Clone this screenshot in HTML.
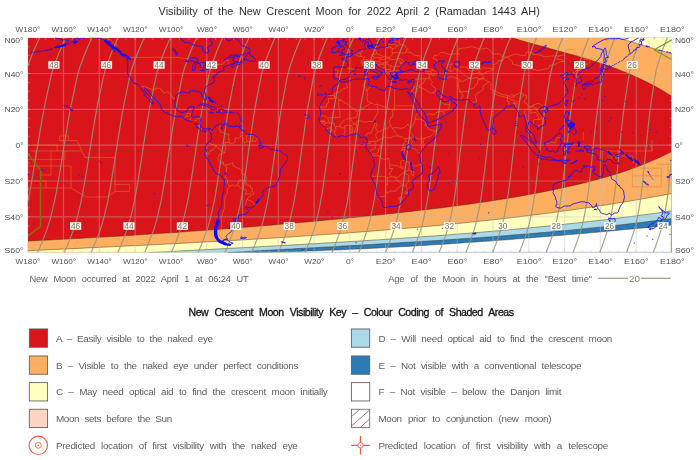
<!DOCTYPE html>
<html><head><meta charset="utf-8"><title>Crescent Moon Visibility</title>
<style>
html,body{margin:0;padding:0;background:#fff;}
svg{display:block;font-family:"Liberation Sans",sans-serif;will-change:transform;}
</style></head>
<body>
<svg width="700" height="460" viewBox="0 0 700 460">
<rect width="700" height="460" fill="#fff"/>
<defs><clipPath id="mc"><rect x="27.7" y="37.7" width="644.1999999999999" height="214.7"/></clipPath></defs>
<g clip-path="url(#mc)">
<rect x="27.7" y="37.7" width="644.1999999999999" height="214.7" fill="#d9151b"/>
<path d="M511.1,37.4 L512.9,38.0 L514.7,38.5 L516.5,39.1 L518.3,39.6 L520.1,40.2 L521.9,40.7 L523.7,41.2 L525.5,41.8 L527.3,42.3 L529.1,42.8 L530.9,43.3 L532.8,43.8 L534.6,44.3 L536.4,44.8 L538.2,45.3 L540.0,45.8 L541.8,46.3 L543.6,46.8 L545.4,47.3 L547.2,47.8 L549.0,48.3 L550.8,48.8 L552.6,49.3 L554.4,49.8 L556.2,50.3 L558.0,50.8 L559.8,51.3 L561.6,51.8 L563.4,52.3 L565.2,52.8 L567.0,53.3 L568.8,53.8 L570.6,54.3 L572.5,54.8 L574.3,55.3 L576.1,55.8 L577.9,56.3 L579.7,56.9 L581.5,57.4 L583.3,57.9 L585.1,58.5 L586.9,59.0 L588.7,59.6 L590.5,60.1 L592.3,60.7 L594.1,61.2 L595.9,61.8 L597.7,62.4 L599.5,63.0 L601.3,63.6 L603.1,64.2 L604.9,64.8 L606.7,65.4 L608.5,66.0 L610.3,66.7 L612.2,67.3 L614.0,68.0 L615.8,68.6 L617.6,69.3 L619.4,70.0 L621.2,70.7 L623.0,71.4 L624.8,72.1 L626.6,72.8 L628.4,73.6 L630.2,74.3 L632.0,75.1 L633.8,75.9 L635.6,76.7 L637.4,77.5 L639.2,78.4 L641.0,79.2 L642.8,80.1 L644.6,80.9 L646.4,81.8 L648.2,82.7 L650.0,83.7 L651.9,84.6 L653.7,85.6 L655.5,86.6 L657.3,87.6 L659.1,88.6 L660.9,89.6 L662.7,90.7 L664.5,91.8 L666.3,92.9 L668.1,94.0 L669.9,95.1 L671.7,96.3 L672.9,36.7 L511.1,36.7Z" fill="#fdae61"/>
<path d="M617.0,37.6 L617.6,37.8 L618.2,38.0 L618.9,38.2 L619.5,38.4 L620.1,38.6 L620.7,38.8 L621.3,39.0 L621.9,39.2 L622.6,39.3 L623.2,39.5 L623.8,39.7 L624.4,39.9 L625.0,40.1 L625.6,40.3 L626.3,40.5 L626.9,40.7 L627.5,40.8 L628.1,41.0 L628.7,41.2 L629.3,41.4 L630.0,41.6 L630.6,41.8 L631.2,41.9 L631.8,42.1 L632.4,42.3 L633.0,42.5 L633.7,42.7 L634.3,42.9 L634.9,43.1 L635.5,43.2 L636.1,43.4 L636.7,43.6 L637.4,43.8 L638.0,44.0 L638.6,44.1 L639.2,44.3 L639.8,44.5 L640.4,44.7 L641.1,44.9 L641.7,45.1 L642.3,45.2 L642.9,45.4 L643.5,45.6 L644.1,45.8 L644.8,46.0 L645.4,46.1 L646.0,46.3 L646.6,46.5 L647.2,46.7 L647.8,46.9 L648.5,47.0 L649.1,47.2 L649.7,47.4 L650.3,47.6 L650.9,47.7 L651.5,47.9 L652.2,48.1 L652.8,48.3 L653.4,48.5 L654.0,48.6 L654.6,48.8 L655.2,49.0 L655.9,49.2 L656.5,49.3 L657.1,49.5 L657.7,49.7 L658.3,49.9 L658.9,50.0 L659.6,50.2 L660.2,50.4 L660.8,50.6 L661.4,50.7 L662.0,50.9 L662.6,51.1 L663.3,51.3 L663.9,51.4 L664.5,51.6 L665.1,51.8 L665.7,51.9 L666.3,52.1 L667.0,52.3 L667.6,52.5 L668.2,52.6 L668.8,52.8 L669.4,53.0 L670.0,53.1 L670.7,53.3 L671.3,53.5 L671.9,53.7 L672.9,36.7 L617.0,36.7Z" fill="#ffffbf"/>
<path d="M27.7,241.0 L34.9,240.7 L42.2,240.3 L49.4,240.0 L56.7,239.6 L63.9,239.2 L71.1,238.8 L78.4,238.4 L85.6,238.0 L92.8,237.6 L100.1,237.2 L107.3,236.8 L114.6,236.4 L121.8,235.9 L129.0,235.5 L136.3,235.0 L143.5,234.6 L150.7,234.1 L158.0,233.6 L165.2,233.1 L172.5,232.7 L179.7,232.2 L186.9,231.6 L194.2,231.1 L201.4,230.6 L208.7,230.1 L215.9,229.5 L223.1,229.0 L230.4,228.4 L237.6,227.8 L244.8,227.3 L252.1,226.7 L259.3,226.1 L266.6,225.5 L273.8,224.9 L281.0,224.2 L288.3,223.6 L295.5,223.0 L302.8,222.3 L310.0,221.7 L317.2,221.0 L324.5,220.3 L331.7,219.6 L338.9,218.9 L346.2,218.2 L353.4,217.5 L360.7,216.8 L367.9,216.0 L375.1,215.3 L382.4,214.5 L389.6,213.8 L396.8,213.0 L404.1,212.2 L411.3,211.4 L418.6,210.5 L425.8,209.7 L433.0,208.8 L440.3,208.0 L447.5,207.0 L454.8,206.1 L462.0,205.1 L469.2,204.2 L476.5,203.1 L483.7,202.1 L490.9,201.0 L498.2,199.8 L505.4,198.7 L512.7,197.5 L519.9,196.2 L527.1,194.9 L534.4,193.6 L541.6,192.2 L548.9,190.7 L556.1,189.2 L563.3,187.7 L570.6,186.1 L577.8,184.4 L585.0,182.7 L592.3,180.8 L599.5,178.9 L606.8,176.8 L614.0,174.7 L621.2,172.4 L628.5,169.9 L635.7,167.3 L642.9,164.6 L650.2,161.6 L657.4,158.5 L664.7,155.1 L671.9,151.6 L672.9,253.4 L26.7,253.4Z" fill="#fdae61"/>
<path d="M27.7,250.8 L34.9,250.4 L42.2,250.1 L49.4,249.7 L56.7,249.4 L63.9,249.1 L71.1,248.7 L78.4,248.4 L85.6,248.0 L92.8,247.7 L100.1,247.3 L107.3,247.0 L114.6,246.6 L121.8,246.3 L129.0,245.9 L136.3,245.6 L143.5,245.2 L150.7,244.9 L158.0,244.5 L165.2,244.1 L172.5,243.8 L179.7,243.4 L186.9,243.0 L194.2,242.6 L201.4,242.2 L208.7,241.8 L215.9,241.4 L223.1,241.0 L230.4,240.6 L237.6,240.2 L244.8,239.8 L252.1,239.3 L259.3,238.9 L266.6,238.5 L273.8,238.0 L281.0,237.6 L288.3,237.1 L295.5,236.6 L302.8,236.1 L310.0,235.6 L317.2,235.1 L324.5,234.6 L331.7,234.1 L338.9,233.6 L346.2,233.1 L353.4,232.5 L360.7,232.0 L367.9,231.4 L375.1,230.8 L382.4,230.3 L389.6,229.7 L396.8,229.1 L404.1,228.5 L411.3,227.8 L418.6,227.2 L425.8,226.5 L433.0,225.9 L440.3,225.2 L447.5,224.5 L454.8,223.8 L462.0,223.1 L469.2,222.3 L476.5,221.6 L483.7,220.8 L490.9,220.0 L498.2,219.2 L505.4,218.4 L512.7,217.5 L519.9,216.7 L527.1,215.8 L534.4,214.9 L541.6,214.0 L548.9,213.1 L556.1,212.1 L563.3,211.1 L570.6,210.1 L577.8,209.1 L585.0,208.0 L592.3,207.0 L599.5,205.9 L606.8,204.8 L614.0,203.6 L621.2,202.4 L628.5,201.3 L635.7,200.0 L642.9,198.8 L650.2,197.5 L657.4,196.2 L664.7,194.9 L671.9,193.5 L672.9,253.4 L26.7,253.4Z" fill="#ffffbf"/>
<path d="M147.6,252.7 L153.5,252.4 L159.4,252.1 L165.3,251.8 L171.2,251.5 L177.1,251.1 L182.9,250.8 L188.8,250.5 L194.7,250.2 L200.6,249.9 L206.5,249.6 L212.4,249.3 L218.3,248.9 L224.2,248.6 L230.1,248.3 L236.0,248.0 L241.9,247.7 L247.7,247.4 L253.6,247.1 L259.5,246.7 L265.4,246.4 L271.3,246.1 L277.2,245.8 L283.1,245.5 L289.0,245.1 L294.9,244.8 L300.8,244.5 L306.7,244.1 L312.5,243.8 L318.4,243.5 L324.3,243.1 L330.2,242.8 L336.1,242.4 L342.0,242.1 L347.9,241.7 L353.8,241.3 L359.7,241.0 L365.6,240.6 L371.5,240.2 L377.3,239.9 L383.2,239.5 L389.1,239.1 L395.0,238.7 L400.9,238.3 L406.8,237.9 L412.7,237.5 L418.6,237.0 L424.5,236.6 L430.4,236.2 L436.3,235.8 L442.2,235.3 L448.0,234.9 L453.9,234.4 L459.8,233.9 L465.7,233.5 L471.6,233.0 L477.5,232.5 L483.4,232.0 L489.3,231.5 L495.2,231.0 L501.1,230.5 L507.0,229.9 L512.8,229.4 L518.7,228.9 L524.6,228.3 L530.5,227.7 L536.4,227.2 L542.3,226.6 L548.2,226.0 L554.1,225.4 L560.0,224.8 L565.9,224.1 L571.8,223.5 L577.6,222.9 L583.5,222.2 L589.4,221.5 L595.3,220.8 L601.2,220.2 L607.1,219.5 L613.0,218.7 L618.9,218.0 L624.8,217.3 L630.7,216.5 L636.6,215.8 L642.4,215.0 L648.3,214.2 L654.2,213.4 L660.1,212.6 L666.0,211.7 L671.9,210.9 L672.9,253.4 L147.6,253.4Z" fill="#abd9e9"/>
<path d="M227.4,252.6 L232.4,252.3 L237.4,252.0 L242.4,251.7 L247.4,251.4 L252.4,251.1 L257.4,250.8 L262.4,250.5 L267.4,250.3 L272.3,250.0 L277.3,249.7 L282.3,249.4 L287.3,249.1 L292.3,248.9 L297.3,248.6 L302.3,248.3 L307.3,248.0 L312.3,247.8 L317.3,247.5 L322.3,247.2 L327.3,246.9 L332.3,246.7 L337.3,246.4 L342.3,246.1 L347.3,245.8 L352.3,245.5 L357.3,245.3 L362.2,245.0 L367.2,244.7 L372.2,244.4 L377.2,244.1 L382.2,243.8 L387.2,243.5 L392.2,243.2 L397.2,242.9 L402.2,242.6 L407.2,242.3 L412.2,242.0 L417.2,241.7 L422.2,241.4 L427.2,241.1 L432.2,240.8 L437.2,240.5 L442.2,240.1 L447.2,239.8 L452.1,239.5 L457.1,239.1 L462.1,238.8 L467.1,238.5 L472.1,238.1 L477.1,237.8 L482.1,237.4 L487.1,237.0 L492.1,236.7 L497.1,236.3 L502.1,235.9 L507.1,235.5 L512.1,235.1 L517.1,234.7 L522.1,234.3 L527.1,233.9 L532.1,233.5 L537.1,233.1 L542.0,232.6 L547.0,232.2 L552.0,231.7 L557.0,231.3 L562.0,230.8 L567.0,230.4 L572.0,229.9 L577.0,229.4 L582.0,228.9 L587.0,228.4 L592.0,227.9 L597.0,227.4 L602.0,226.9 L607.0,226.3 L612.0,225.8 L617.0,225.2 L622.0,224.7 L627.0,224.1 L631.9,223.5 L636.9,222.9 L641.9,222.3 L646.9,221.7 L651.9,221.1 L656.9,220.5 L661.9,219.8 L666.9,219.2 L671.9,218.5 L672.9,253.4 L227.4,253.4Z" fill="#2c7bb6"/>
<path d="M257.0,252.5 L261.7,252.4 L266.3,252.3 L271.0,252.2 L275.6,252.1 L280.3,251.9 L285.0,251.8 L289.6,251.7 L294.3,251.5 L299.0,251.4 L303.6,251.2 L308.3,251.0 L312.9,250.9 L317.6,250.7 L322.3,250.5 L326.9,250.3 L331.6,250.1 L336.3,250.0 L340.9,249.8 L345.6,249.6 L350.2,249.3 L354.9,249.1 L359.6,248.9 L364.2,248.7 L368.9,248.5 L373.5,248.2 L378.2,248.0 L382.9,247.7 L387.5,247.5 L392.2,247.2 L396.9,247.0 L401.5,246.7 L406.2,246.5 L410.8,246.2 L415.5,245.9 L420.2,245.6 L424.8,245.4 L429.5,245.1 L434.1,244.8 L438.8,244.5 L443.5,244.2 L448.1,243.9 L452.8,243.6 L457.5,243.3 L462.1,242.9 L466.8,242.6 L471.4,242.3 L476.1,242.0 L480.8,241.6 L485.4,241.3 L490.1,241.0 L494.8,240.6 L499.4,240.3 L504.1,239.9 L508.7,239.6 L513.4,239.2 L518.1,238.8 L522.7,238.5 L527.4,238.1 L532.0,237.7 L536.7,237.3 L541.4,237.0 L546.0,236.6 L550.7,236.2 L555.4,235.8 L560.0,235.4 L564.7,235.0 L569.3,234.6 L574.0,234.2 L578.7,233.8 L583.3,233.4 L588.0,233.0 L592.6,232.6 L597.3,232.2 L602.0,231.7 L606.6,231.3 L611.3,230.9 L616.0,230.5 L620.6,230.0 L625.3,229.6 L629.9,229.2 L634.6,228.7 L639.3,228.3 L643.9,227.9 L648.6,227.4 L653.3,227.0 L657.9,226.5 L662.6,226.1 L667.2,225.6 L671.9,225.1 L672.9,253.4 L257.0,253.4Z" fill="#ffffff"/>
<path d="M511.1,37.4 L512.9,38.0 L514.7,38.5 L516.5,39.1 L518.3,39.6 L520.1,40.2 L521.9,40.7 L523.7,41.2 L525.5,41.8 L527.3,42.3 L529.1,42.8 L530.9,43.3 L532.8,43.8 L534.6,44.3 L536.4,44.8 L538.2,45.3 L540.0,45.8 L541.8,46.3 L543.6,46.8 L545.4,47.3 L547.2,47.8 L549.0,48.3 L550.8,48.8 L552.6,49.3 L554.4,49.8 L556.2,50.3 L558.0,50.8 L559.8,51.3 L561.6,51.8 L563.4,52.3 L565.2,52.8 L567.0,53.3 L568.8,53.8 L570.6,54.3 L572.5,54.8 L574.3,55.3 L576.1,55.8 L577.9,56.3 L579.7,56.9 L581.5,57.4 L583.3,57.9 L585.1,58.5 L586.9,59.0 L588.7,59.6 L590.5,60.1 L592.3,60.7 L594.1,61.2 L595.9,61.8 L597.7,62.4 L599.5,63.0 L601.3,63.6 L603.1,64.2 L604.9,64.8 L606.7,65.4 L608.5,66.0 L610.3,66.7 L612.2,67.3 L614.0,68.0 L615.8,68.6 L617.6,69.3 L619.4,70.0 L621.2,70.7 L623.0,71.4 L624.8,72.1 L626.6,72.8 L628.4,73.6 L630.2,74.3 L632.0,75.1 L633.8,75.9 L635.6,76.7 L637.4,77.5 L639.2,78.4 L641.0,79.2 L642.8,80.1 L644.6,80.9 L646.4,81.8 L648.2,82.7 L650.0,83.7 L651.9,84.6 L653.7,85.6 L655.5,86.6 L657.3,87.6 L659.1,88.6 L660.9,89.6 L662.7,90.7 L664.5,91.8 L666.3,92.9 L668.1,94.0 L669.9,95.1 L671.7,96.3" fill="none" stroke="#3a2a10" stroke-opacity="0.75" stroke-width="0.6"/>
<path d="M617.0,37.6 L617.6,37.8 L618.2,38.0 L618.9,38.2 L619.5,38.4 L620.1,38.6 L620.7,38.8 L621.3,39.0 L621.9,39.2 L622.6,39.3 L623.2,39.5 L623.8,39.7 L624.4,39.9 L625.0,40.1 L625.6,40.3 L626.3,40.5 L626.9,40.7 L627.5,40.8 L628.1,41.0 L628.7,41.2 L629.3,41.4 L630.0,41.6 L630.6,41.8 L631.2,41.9 L631.8,42.1 L632.4,42.3 L633.0,42.5 L633.7,42.7 L634.3,42.9 L634.9,43.1 L635.5,43.2 L636.1,43.4 L636.7,43.6 L637.4,43.8 L638.0,44.0 L638.6,44.1 L639.2,44.3 L639.8,44.5 L640.4,44.7 L641.1,44.9 L641.7,45.1 L642.3,45.2 L642.9,45.4 L643.5,45.6 L644.1,45.8 L644.8,46.0 L645.4,46.1 L646.0,46.3 L646.6,46.5 L647.2,46.7 L647.8,46.9 L648.5,47.0 L649.1,47.2 L649.7,47.4 L650.3,47.6 L650.9,47.7 L651.5,47.9 L652.2,48.1 L652.8,48.3 L653.4,48.5 L654.0,48.6 L654.6,48.8 L655.2,49.0 L655.9,49.2 L656.5,49.3 L657.1,49.5 L657.7,49.7 L658.3,49.9 L658.9,50.0 L659.6,50.2 L660.2,50.4 L660.8,50.6 L661.4,50.7 L662.0,50.9 L662.6,51.1 L663.3,51.3 L663.9,51.4 L664.5,51.6 L665.1,51.8 L665.7,51.9 L666.3,52.1 L667.0,52.3 L667.6,52.5 L668.2,52.6 L668.8,52.8 L669.4,53.0 L670.0,53.1 L670.7,53.3 L671.3,53.5 L671.9,53.7" fill="none" stroke="#3a2a10" stroke-opacity="0.75" stroke-width="0.6"/>
<path d="M27.7,241.0 L34.9,240.7 L42.2,240.3 L49.4,240.0 L56.7,239.6 L63.9,239.2 L71.1,238.8 L78.4,238.4 L85.6,238.0 L92.8,237.6 L100.1,237.2 L107.3,236.8 L114.6,236.4 L121.8,235.9 L129.0,235.5 L136.3,235.0 L143.5,234.6 L150.7,234.1 L158.0,233.6 L165.2,233.1 L172.5,232.7 L179.7,232.2 L186.9,231.6 L194.2,231.1 L201.4,230.6 L208.7,230.1 L215.9,229.5 L223.1,229.0 L230.4,228.4 L237.6,227.8 L244.8,227.3 L252.1,226.7 L259.3,226.1 L266.6,225.5 L273.8,224.9 L281.0,224.2 L288.3,223.6 L295.5,223.0 L302.8,222.3 L310.0,221.7 L317.2,221.0 L324.5,220.3 L331.7,219.6 L338.9,218.9 L346.2,218.2 L353.4,217.5 L360.7,216.8 L367.9,216.0 L375.1,215.3 L382.4,214.5 L389.6,213.8 L396.8,213.0 L404.1,212.2 L411.3,211.4 L418.6,210.5 L425.8,209.7 L433.0,208.8 L440.3,208.0 L447.5,207.0 L454.8,206.1 L462.0,205.1 L469.2,204.2 L476.5,203.1 L483.7,202.1 L490.9,201.0 L498.2,199.8 L505.4,198.7 L512.7,197.5 L519.9,196.2 L527.1,194.9 L534.4,193.6 L541.6,192.2 L548.9,190.7 L556.1,189.2 L563.3,187.7 L570.6,186.1 L577.8,184.4 L585.0,182.7 L592.3,180.8 L599.5,178.9 L606.8,176.8 L614.0,174.7 L621.2,172.4 L628.5,169.9 L635.7,167.3 L642.9,164.6 L650.2,161.6 L657.4,158.5 L664.7,155.1 L671.9,151.6" fill="none" stroke="#3a2a10" stroke-opacity="0.75" stroke-width="0.6"/>
<path d="M27.7,250.8 L34.9,250.4 L42.2,250.1 L49.4,249.7 L56.7,249.4 L63.9,249.1 L71.1,248.7 L78.4,248.4 L85.6,248.0 L92.8,247.7 L100.1,247.3 L107.3,247.0 L114.6,246.6 L121.8,246.3 L129.0,245.9 L136.3,245.6 L143.5,245.2 L150.7,244.9 L158.0,244.5 L165.2,244.1 L172.5,243.8 L179.7,243.4 L186.9,243.0 L194.2,242.6 L201.4,242.2 L208.7,241.8 L215.9,241.4 L223.1,241.0 L230.4,240.6 L237.6,240.2 L244.8,239.8 L252.1,239.3 L259.3,238.9 L266.6,238.5 L273.8,238.0 L281.0,237.6 L288.3,237.1 L295.5,236.6 L302.8,236.1 L310.0,235.6 L317.2,235.1 L324.5,234.6 L331.7,234.1 L338.9,233.6 L346.2,233.1 L353.4,232.5 L360.7,232.0 L367.9,231.4 L375.1,230.8 L382.4,230.3 L389.6,229.7 L396.8,229.1 L404.1,228.5 L411.3,227.8 L418.6,227.2 L425.8,226.5 L433.0,225.9 L440.3,225.2 L447.5,224.5 L454.8,223.8 L462.0,223.1 L469.2,222.3 L476.5,221.6 L483.7,220.8 L490.9,220.0 L498.2,219.2 L505.4,218.4 L512.7,217.5 L519.9,216.7 L527.1,215.8 L534.4,214.9 L541.6,214.0 L548.9,213.1 L556.1,212.1 L563.3,211.1 L570.6,210.1 L577.8,209.1 L585.0,208.0 L592.3,207.0 L599.5,205.9 L606.8,204.8 L614.0,203.6 L621.2,202.4 L628.5,201.3 L635.7,200.0 L642.9,198.8 L650.2,197.5 L657.4,196.2 L664.7,194.9 L671.9,193.5" fill="none" stroke="#3a2a10" stroke-opacity="0.75" stroke-width="0.6"/>
<path d="M147.6,252.7 L153.5,252.4 L159.4,252.1 L165.3,251.8 L171.2,251.5 L177.1,251.1 L182.9,250.8 L188.8,250.5 L194.7,250.2 L200.6,249.9 L206.5,249.6 L212.4,249.3 L218.3,248.9 L224.2,248.6 L230.1,248.3 L236.0,248.0 L241.9,247.7 L247.7,247.4 L253.6,247.1 L259.5,246.7 L265.4,246.4 L271.3,246.1 L277.2,245.8 L283.1,245.5 L289.0,245.1 L294.9,244.8 L300.8,244.5 L306.7,244.1 L312.5,243.8 L318.4,243.5 L324.3,243.1 L330.2,242.8 L336.1,242.4 L342.0,242.1 L347.9,241.7 L353.8,241.3 L359.7,241.0 L365.6,240.6 L371.5,240.2 L377.3,239.9 L383.2,239.5 L389.1,239.1 L395.0,238.7 L400.9,238.3 L406.8,237.9 L412.7,237.5 L418.6,237.0 L424.5,236.6 L430.4,236.2 L436.3,235.8 L442.2,235.3 L448.0,234.9 L453.9,234.4 L459.8,233.9 L465.7,233.5 L471.6,233.0 L477.5,232.5 L483.4,232.0 L489.3,231.5 L495.2,231.0 L501.1,230.5 L507.0,229.9 L512.8,229.4 L518.7,228.9 L524.6,228.3 L530.5,227.7 L536.4,227.2 L542.3,226.6 L548.2,226.0 L554.1,225.4 L560.0,224.8 L565.9,224.1 L571.8,223.5 L577.6,222.9 L583.5,222.2 L589.4,221.5 L595.3,220.8 L601.2,220.2 L607.1,219.5 L613.0,218.7 L618.9,218.0 L624.8,217.3 L630.7,216.5 L636.6,215.8 L642.4,215.0 L648.3,214.2 L654.2,213.4 L660.1,212.6 L666.0,211.7 L671.9,210.9" fill="none" stroke="#3a2a10" stroke-opacity="0.75" stroke-width="0.6"/>
<path d="M227.4,252.6 L232.4,252.3 L237.4,252.0 L242.4,251.7 L247.4,251.4 L252.4,251.1 L257.4,250.8 L262.4,250.5 L267.4,250.3 L272.3,250.0 L277.3,249.7 L282.3,249.4 L287.3,249.1 L292.3,248.9 L297.3,248.6 L302.3,248.3 L307.3,248.0 L312.3,247.8 L317.3,247.5 L322.3,247.2 L327.3,246.9 L332.3,246.7 L337.3,246.4 L342.3,246.1 L347.3,245.8 L352.3,245.5 L357.3,245.3 L362.2,245.0 L367.2,244.7 L372.2,244.4 L377.2,244.1 L382.2,243.8 L387.2,243.5 L392.2,243.2 L397.2,242.9 L402.2,242.6 L407.2,242.3 L412.2,242.0 L417.2,241.7 L422.2,241.4 L427.2,241.1 L432.2,240.8 L437.2,240.5 L442.2,240.1 L447.2,239.8 L452.1,239.5 L457.1,239.1 L462.1,238.8 L467.1,238.5 L472.1,238.1 L477.1,237.8 L482.1,237.4 L487.1,237.0 L492.1,236.7 L497.1,236.3 L502.1,235.9 L507.1,235.5 L512.1,235.1 L517.1,234.7 L522.1,234.3 L527.1,233.9 L532.1,233.5 L537.1,233.1 L542.0,232.6 L547.0,232.2 L552.0,231.7 L557.0,231.3 L562.0,230.8 L567.0,230.4 L572.0,229.9 L577.0,229.4 L582.0,228.9 L587.0,228.4 L592.0,227.9 L597.0,227.4 L602.0,226.9 L607.0,226.3 L612.0,225.8 L617.0,225.2 L622.0,224.7 L627.0,224.1 L631.9,223.5 L636.9,222.9 L641.9,222.3 L646.9,221.7 L651.9,221.1 L656.9,220.5 L661.9,219.8 L666.9,219.2 L671.9,218.5" fill="none" stroke="#3a2a10" stroke-opacity="0.75" stroke-width="0.6"/>
<path d="M257.0,252.5 L261.7,252.4 L266.3,252.3 L271.0,252.2 L275.6,252.1 L280.3,251.9 L285.0,251.8 L289.6,251.7 L294.3,251.5 L299.0,251.4 L303.6,251.2 L308.3,251.0 L312.9,250.9 L317.6,250.7 L322.3,250.5 L326.9,250.3 L331.6,250.1 L336.3,250.0 L340.9,249.8 L345.6,249.6 L350.2,249.3 L354.9,249.1 L359.6,248.9 L364.2,248.7 L368.9,248.5 L373.5,248.2 L378.2,248.0 L382.9,247.7 L387.5,247.5 L392.2,247.2 L396.9,247.0 L401.5,246.7 L406.2,246.5 L410.8,246.2 L415.5,245.9 L420.2,245.6 L424.8,245.4 L429.5,245.1 L434.1,244.8 L438.8,244.5 L443.5,244.2 L448.1,243.9 L452.8,243.6 L457.5,243.3 L462.1,242.9 L466.8,242.6 L471.4,242.3 L476.1,242.0 L480.8,241.6 L485.4,241.3 L490.1,241.0 L494.8,240.6 L499.4,240.3 L504.1,239.9 L508.7,239.6 L513.4,239.2 L518.1,238.8 L522.7,238.5 L527.4,238.1 L532.0,237.7 L536.7,237.3 L541.4,237.0 L546.0,236.6 L550.7,236.2 L555.4,235.8 L560.0,235.4 L564.7,235.0 L569.3,234.6 L574.0,234.2 L578.7,233.8 L583.3,233.4 L588.0,233.0 L592.6,232.6 L597.3,232.2 L602.0,231.7 L606.6,231.3 L611.3,230.9 L616.0,230.5 L620.6,230.0 L625.3,229.6 L629.9,229.2 L634.6,228.7 L639.3,228.3 L643.9,227.9 L648.6,227.4 L653.3,227.0 L657.9,226.5 L662.6,226.1 L667.2,225.6 L671.9,225.1" fill="none" stroke="#3a2a10" stroke-opacity="0.75" stroke-width="0.6"/>
<path d="M63.5,37.7 V252.4 M99.3,37.7 V252.4 M135.1,37.7 V252.4 M170.9,37.7 V252.4 M206.7,37.7 V252.4 M242.5,37.7 V252.4 M278.3,37.7 V252.4 M314.1,37.7 V252.4 M349.8,37.7 V252.4 M385.6,37.7 V252.4 M421.4,37.7 V252.4 M457.2,37.7 V252.4 M493.0,37.7 V252.4 M528.8,37.7 V252.4 M564.6,37.7 V252.4 M600.4,37.7 V252.4 M636.2,37.7 V252.4 M27.7,216.9 H671.9 M27.7,181.0 H671.9 M27.7,145.2 H671.9 M27.7,109.3 H671.9 M27.7,73.5 H671.9" fill="none" stroke="#c0c0c0" stroke-opacity="0.38" stroke-width="1.2"/>
<path d="M27.7,252.1 H671.9" fill="none" stroke="#c4c4c4" stroke-opacity="0.7" stroke-width="0.7"/>
<path d="M36.6,252.4 v-2 M36.6,37.7 v2 M45.6,252.4 v-2 M45.6,37.7 v2 M54.5,252.4 v-2 M54.5,37.7 v2 M63.5,252.4 v-2 M63.5,37.7 v2 M72.4,252.4 v-2 M72.4,37.7 v2 M81.4,252.4 v-2 M81.4,37.7 v2 M90.3,252.4 v-2 M90.3,37.7 v2 M99.3,252.4 v-2 M99.3,37.7 v2 M108.2,252.4 v-2 M108.2,37.7 v2 M117.2,252.4 v-2 M117.2,37.7 v2 M126.1,252.4 v-2 M126.1,37.7 v2 M135.1,252.4 v-2 M135.1,37.7 v2 M144.0,252.4 v-2 M144.0,37.7 v2 M153.0,252.4 v-2 M153.0,37.7 v2 M161.9,252.4 v-2 M161.9,37.7 v2 M170.9,252.4 v-2 M170.9,37.7 v2 M179.8,252.4 v-2 M179.8,37.7 v2 M188.8,252.4 v-2 M188.8,37.7 v2 M197.7,252.4 v-2 M197.7,37.7 v2 M206.7,252.4 v-2 M206.7,37.7 v2 M215.6,252.4 v-2 M215.6,37.7 v2 M224.6,252.4 v-2 M224.6,37.7 v2 M233.5,252.4 v-2 M233.5,37.7 v2 M242.5,252.4 v-2 M242.5,37.7 v2 M251.4,252.4 v-2 M251.4,37.7 v2 M260.4,252.4 v-2 M260.4,37.7 v2 M269.3,252.4 v-2 M269.3,37.7 v2 M278.3,252.4 v-2 M278.3,37.7 v2 M287.2,252.4 v-2 M287.2,37.7 v2 M296.2,252.4 v-2 M296.2,37.7 v2 M305.1,252.4 v-2 M305.1,37.7 v2 M314.1,252.4 v-2 M314.1,37.7 v2 M323.0,252.4 v-2 M323.0,37.7 v2 M331.9,252.4 v-2 M331.9,37.7 v2 M340.9,252.4 v-2 M340.9,37.7 v2 M349.8,252.4 v-2 M349.8,37.7 v2 M358.8,252.4 v-2 M358.8,37.7 v2 M367.7,252.4 v-2 M367.7,37.7 v2 M376.7,252.4 v-2 M376.7,37.7 v2 M385.6,252.4 v-2 M385.6,37.7 v2 M394.6,252.4 v-2 M394.6,37.7 v2 M403.5,252.4 v-2 M403.5,37.7 v2 M412.5,252.4 v-2 M412.5,37.7 v2 M421.4,252.4 v-2 M421.4,37.7 v2 M430.4,252.4 v-2 M430.4,37.7 v2 M439.3,252.4 v-2 M439.3,37.7 v2 M448.3,252.4 v-2 M448.3,37.7 v2 M457.2,252.4 v-2 M457.2,37.7 v2 M466.2,252.4 v-2 M466.2,37.7 v2 M475.1,252.4 v-2 M475.1,37.7 v2 M484.1,252.4 v-2 M484.1,37.7 v2 M493.0,252.4 v-2 M493.0,37.7 v2 M502.0,252.4 v-2 M502.0,37.7 v2 M510.9,252.4 v-2 M510.9,37.7 v2 M519.9,252.4 v-2 M519.9,37.7 v2 M528.8,252.4 v-2 M528.8,37.7 v2 M537.8,252.4 v-2 M537.8,37.7 v2 M546.7,252.4 v-2 M546.7,37.7 v2 M555.7,252.4 v-2 M555.7,37.7 v2 M564.6,252.4 v-2 M564.6,37.7 v2 M573.6,252.4 v-2 M573.6,37.7 v2 M582.5,252.4 v-2 M582.5,37.7 v2 M591.5,252.4 v-2 M591.5,37.7 v2 M600.4,252.4 v-2 M600.4,37.7 v2 M609.4,252.4 v-2 M609.4,37.7 v2 M618.3,252.4 v-2 M618.3,37.7 v2 M627.2,252.4 v-2 M627.2,37.7 v2 M636.2,252.4 v-2 M636.2,37.7 v2 M645.1,252.4 v-2 M645.1,37.7 v2 M654.1,252.4 v-2 M654.1,37.7 v2 M663.0,252.4 v-2 M663.0,37.7 v2 M27.7,243.8 h2 M671.9,243.8 h-2 M27.7,234.8 h2 M671.9,234.8 h-2 M27.7,225.9 h2 M671.9,225.9 h-2 M27.7,216.9 h2 M671.9,216.9 h-2 M27.7,207.9 h2 M671.9,207.9 h-2 M27.7,199.0 h2 M671.9,199.0 h-2 M27.7,190.0 h2 M671.9,190.0 h-2 M27.7,181.0 h2 M671.9,181.0 h-2 M27.7,172.1 h2 M671.9,172.1 h-2 M27.7,163.1 h2 M671.9,163.1 h-2 M27.7,154.2 h2 M671.9,154.2 h-2 M27.7,145.2 h2 M671.9,145.2 h-2 M27.7,136.2 h2 M671.9,136.2 h-2 M27.7,127.3 h2 M671.9,127.3 h-2 M27.7,118.3 h2 M671.9,118.3 h-2 M27.7,109.3 h2 M671.9,109.3 h-2 M27.7,100.4 h2 M671.9,100.4 h-2 M27.7,91.4 h2 M671.9,91.4 h-2 M27.7,82.5 h2 M671.9,82.5 h-2 M27.7,73.5 h2 M671.9,73.5 h-2 M27.7,64.5 h2 M671.9,64.5 h-2 M27.7,55.6 h2 M671.9,55.6 h-2 M27.7,46.6 h2 M671.9,46.6 h-2" fill="none" stroke="#c8c8c8" stroke-opacity="0.6" stroke-width="0.7"/>
<path d="M129.2,57.4 L179.5,57.4 L180.5,57.9 L185.2,58.6 L188.8,59.0 L190.0,59.2 M198.6,61.8 L200.4,62.7 L202.2,64.0 L202.4,68.1 L201.1,69.7 L204.9,69.6 L208.5,68.3 L208.5,67.4 L213.1,66.2 L215.6,64.5 L221.9,64.5 L223.1,63.8 L224.6,61.8 L226.0,60.2 L228.1,60.4 L228.5,63.3 L229.6,64.2 M97.5,36.8 L97.5,37.3 L101.1,37.6 L103.8,39.4 L107.3,38.2 L108.2,38.9 L110.9,40.3 L113.6,43.0 L117.2,44.8 L116.8,46.6 M140.3,86.9 L144.6,86.6 L151.2,89.1 L156.2,89.1 L156.2,88.2 L159.2,88.2 L162.1,90.3 L162.8,92.1 L165.1,93.2 L166.6,91.8 L168.4,91.8 L170.3,94.5 L171.8,95.9 L172.5,97.9 L175.9,98.8 M184.8,119.2 L184.8,117.8 L185.7,116.3 L187.9,116.3 L186.3,114.4 L187.0,114.3 L187.0,113.3 L190.2,113.3 L191.8,112.0 M190.2,113.3 L190.2,116.7 L190.7,116.7 M188.6,120.6 L189.8,119.4 L190.2,119.0 L192.0,117.1 M189.8,119.4 L191.5,120.3 L192.7,121.2 M193.6,121.9 L194.7,120.5 L196.5,120.1 L198.1,118.7 L200.9,118.3 M196.5,125.3 L198.3,125.5 L200.0,125.7 M201.5,130.7 L201.5,128.9 L202.0,128.0 M211.3,129.8 L210.4,132.3 M221.5,109.9 L221.5,112.4 M222.1,124.0 L220.3,125.3 L219.2,128.2 L220.1,130.1 L220.3,131.9 L224.4,132.7 L225.6,134.3 L229.0,134.1 L228.5,137.1 L229.4,139.1 L228.5,140.2 L229.9,143.0 M230.1,143.0 L224.9,142.2 L224.9,143.2 L226.0,144.1 L224.6,144.3 L224.6,145.6 L225.6,147.2 L224.7,152.7 M224.7,152.7 L223.3,152.0 L219.4,149.5 L217.9,147.5 L215.1,145.4 M215.1,145.4 L213.3,144.5 L211.3,144.5 L208.8,142.7 M215.1,145.4 L215.3,147.0 L212.8,149.9 L210.2,150.9 L209.5,152.4 L208.5,154.2 L206.5,152.9 L206.1,151.3 M224.7,152.7 L219.4,154.7 L217.6,158.3 L219.4,161.5 L220.6,163.1 L223.5,162.2 L223.5,164.9 L225.3,164.8 M225.3,164.8 L226.9,167.6 L226.4,171.2 L225.6,173.2 L226.4,174.4 L225.5,176.6 M225.5,176.6 L223.9,178.1 M225.5,176.6 L227.3,180.2 L227.8,183.7 L229.6,186.1 M229.6,186.1 L229.9,186.4 L227.4,189.1 L227.4,193.6 L225.3,196.3 L224.6,200.8 L224.6,204.7 L224.9,206.7 L223.7,209.7 L222.6,213.3 L221.3,217.8 L221.3,221.4 L221.9,224.1 L221.5,227.7 L220.3,231.2 L218.7,234.5 L220.5,236.6 L221.0,238.4 L227.4,238.9 M227.1,239.5 L227.1,243.6 M229.6,186.1 L233.2,184.8 L234.8,186.1 L237.6,185.0 M237.6,185.0 L239.2,180.3 L245.7,180.7 L245.7,181.4 M225.3,164.8 L228.1,164.4 L232.8,162.8 L233.0,165.8 L237.1,167.8 L241.6,169.9 L242.1,174.2 L245.3,174.4 L245.3,176.2 L246.8,177.5 L245.7,180.7 M245.7,181.4 L246.4,184.8 L250.2,185.4 L250.7,188.0 L252.7,188.4 L252.1,191.1 M237.6,185.0 L240.7,187.9 L246.0,190.0 L246.8,190.9 L245.0,194.0 L249.6,194.1 L252.1,191.1 M252.1,191.1 L253.6,192.7 L253.7,194.0 L250.0,195.9 L246.8,199.3 M246.8,199.3 L245.7,203.5 L245.3,206.1 M246.8,199.3 L249.6,200.4 L252.3,201.7 L254.6,203.8 L254.3,205.6 M230.1,143.0 L232.6,143.9 L235.3,141.8 L234.9,137.9 L237.5,138.6 L239.8,137.5 L241.2,135.9 M241.2,135.9 L240.0,134.6 L242.5,130.9 L242.8,130.3 M241.2,135.9 L242.6,137.1 L243.2,141.6 L244.6,143.0 L247.3,141.6 L248.7,141.8 M247.3,141.6 L246.0,138.0 L247.5,134.6 M248.7,141.8 L252.3,141.1 M252.3,141.1 L253.2,138.0 L253.2,134.8 M252.3,141.1 L255.9,141.3 L257.5,137.7 M345.9,82.3 L346.6,84.3 L347.7,87.5 L343.4,88.6 L340.0,91.8 L334.3,93.8 L334.3,95.5 M334.3,95.5 L326.2,95.5 M334.3,95.5 L334.3,98.6 L328.4,98.6 L328.4,103.1 L326.6,104.0 L326.6,107.0 L319.4,107.0 M334.3,96.3 L341.3,100.4 L352.0,107.4 L353.1,108.8 L355.6,109.7 L355.8,111.1 L357.4,111.0 M341.3,100.4 L338.2,100.4 L340.0,115.6 L340.4,117.4 L333.2,117.4 L330.3,118.1 L329.3,117.2 L328.0,118.7 M328.0,118.7 L325.9,116.5 L323.9,115.4 L320.3,116.5 M328.0,118.7 L329.4,123.0 M329.4,123.0 L325.3,122.6 L325.3,123.2 L320.0,123.2 M319.8,120.8 L325.1,121.0 L325.1,121.5 L319.8,121.7 M325.3,123.2 L325.1,124.2 L323.0,125.7 M329.4,123.0 L333.7,123.0 L335.5,126.9 M326.0,129.1 L330.7,127.3 L331.4,130.0 M331.4,130.0 L332.8,130.3 L334.6,131.6 M331.4,130.0 L329.3,132.8 M334.6,131.6 L335.0,133.9 L336.4,137.3 M334.6,131.6 L335.9,130.0 L335.5,126.9 M335.5,126.9 L338.7,126.2 L340.0,126.6 M340.0,126.6 L341.4,127.8 L344.8,127.8 M344.8,127.8 L345.0,130.9 L344.1,133.9 L344.3,136.1 M340.0,126.6 L340.4,124.0 L342.0,123.2 L342.7,121.2 L345.4,119.7 L348.6,118.3 L350.2,118.3 M344.8,127.8 L344.8,125.5 L349.7,125.3 M349.7,125.3 L350.7,128.2 L351.1,131.8 L352.0,134.3 M349.7,125.3 L351.5,125.5 M351.5,125.5 L352.7,128.2 L352.7,133.9 M356.3,124.2 L356.6,126.4 L354.7,131.2 L354.7,133.7 M350.2,118.3 L351.5,120.8 L353.8,123.0 L354.1,123.9 M351.5,125.5 L354.1,123.9 M354.1,123.9 L356.3,124.2 M350.2,118.3 L356.1,117.6 L357.4,115.1 L357.4,111.0 M356.3,124.2 L357.0,121.0 L361.5,121.0 L363.3,121.7 L366.0,122.3 L368.6,121.4 L372.2,121.5 L374.2,120.6 M357.4,111.0 L360.2,110.2 L363.3,107.7 L371.3,103.1 M371.3,103.1 L375.3,104.7 L376.7,104.0 M376.7,104.0 L377.6,107.6 L377.8,112.9 L374.0,119.2 L374.2,120.6 M371.3,103.1 L367.7,101.3 L366.8,98.1 L367.6,94.5 L366.8,91.1 M366.8,91.1 L366.0,87.8 L363.6,85.7 L364.7,83.0 L365.2,79.1 M366.8,91.1 L368.3,88.4 L370.4,86.8 L370.4,85.7 M376.7,104.0 L392.8,110.2 M394.6,88.6 L394.6,105.8 M394.6,105.8 L394.6,109.3 L392.8,109.3 L392.8,110.2 M394.6,105.8 L415.9,105.8 M392.8,110.2 L392.8,117.1 L390.8,117.4 L390.1,120.1 L389.2,122.4 L390.8,125.5 L392.3,128.2 M390.8,125.5 L387.4,128.2 L383.9,129.1 L380.3,131.6 L377.6,131.8 M377.6,131.8 L375.3,127.3 L377.2,126.7 L375.8,122.1 L375.3,123.0 M375.3,123.0 L373.6,127.1 L371.0,132.7 L367.4,133.5 L365.2,136.6 M377.6,131.8 L375.8,134.4 L376.0,136.4 L378.5,141.1 M378.5,141.1 L373.6,141.3 L370.1,141.3 L367.4,141.1 M370.1,141.3 L370.1,143.4 L367.0,143.4 M373.6,141.3 L375.6,142.9 L374.7,145.6 L375.8,148.2 L373.1,149.5 L370.6,150.2 L369.9,152.2 M378.5,141.1 L379.6,138.9 L383.1,138.9 M383.1,138.9 L383.3,137.0 L390.1,137.9 L394.6,135.9 L398.9,136.2 M383.1,138.9 L381.7,145.2 L378.8,148.8 L378.1,152.4 L375.8,154.0 L373.1,153.4 L371.7,155.6 M398.9,136.2 L394.6,131.8 L392.3,128.2 M392.3,128.2 L396.4,127.3 L400.0,128.4 L404.4,127.6 L408.0,124.0 L409.3,126.4 L410.7,128.2 M410.7,128.2 L408.9,130.9 L411.6,133.5 L414.1,137.0 M414.1,137.0 L410.7,137.7 L408.9,138.4 L405.3,138.6 L405.0,138.9 L402.6,137.1 L398.9,136.2 M410.7,128.2 L412.5,125.5 L414.6,122.6 L415.2,119.6 M415.2,119.6 L416.1,114.7 L418.9,112.9 M415.2,119.6 L419.6,119.0 L422.9,119.9 L425.7,122.8 M425.7,122.8 L424.7,125.5 L426.8,124.6 M426.8,124.6 L426.4,125.8 L428.6,129.1 L434.0,130.9 L435.8,130.9 L430.4,136.2 L425.0,137.9 M425.0,137.9 L423.2,138.2 L420.5,139.1 L417.9,138.7 L414.3,137.3 L414.1,137.0 M425.0,137.9 L423.2,140.2 L423.2,146.8 L424.3,148.2 M410.7,137.7 L412.5,142.2 L410.7,144.8 L410.7,147.0 M410.7,147.0 L417.1,150.6 L417.3,151.5 L420.0,153.6 M405.0,138.9 L405.9,141.3 L403.4,143.8 L402.8,147.7 M402.8,147.7 L404.4,147.0 L410.7,147.0 M402.8,147.7 L401.7,150.0 L402.1,153.1 M404.4,147.0 L405.0,149.5 L404.3,151.5 L402.6,153.1 M401.7,150.0 L405.0,149.5 M405.5,160.6 L408.7,162.0 M408.7,162.0 L410.7,162.2 M411.9,165.8 L414.3,166.0 L417.9,165.5 L422.1,163.8 M405.5,160.6 L401.6,160.4 L400.7,161.9 L401.0,166.7 L403.2,167.1 L403.2,169.2 L400.0,167.4 L398.2,166.0 L395.1,165.3 L393.5,165.6 L392.8,164.7 L389.8,165.3 L389.2,168.5 M371.7,155.8 L373.3,155.8 L379.6,155.8 L380.3,158.1 L384.6,159.5 L388.9,158.3 L389.2,162.2 L389.8,165.3 M389.2,168.5 L392.8,168.5 L389.2,174.2 L391.7,176.7 M371.0,176.2 L374.9,176.4 L382.8,176.4 L388.1,177.5 L391.7,176.7 M387.4,178.0 L387.4,184.6 L385.6,184.6 L385.6,189.7 M385.6,189.7 L385.6,196.1 L381.0,196.6 L379.4,196.5 M385.6,189.7 L387.1,193.2 L390.7,190.9 L395.5,191.3 L398.2,187.7 L402.5,185.0 M402.5,185.0 L399.4,181.9 L396.4,179.6 L395.1,177.1 M391.7,176.7 L395.1,177.1 M395.1,177.1 L398.2,177.3 L401.6,173.7 L404.3,173.2 M404.3,173.2 L403.9,171.7 L409.3,170.3 M409.3,170.3 L408.4,169.6 L408.9,167.6 L409.4,164.6 L408.7,162.0 M409.3,170.3 L411.6,171.2 L414.1,171.9 L413.9,174.1 L413.0,175.9 L411.2,174.4 L411.4,171.2 M404.3,173.2 L408.5,175.1 L408.9,178.4 L408.4,181.9 L405.9,185.4 M405.9,185.4 L402.5,185.0 M405.9,185.4 L407.1,189.1 L407.1,193.2 L408.7,193.4 M405.3,191.8 L407.1,191.8 L407.3,193.2 L405.3,194.0 L405.0,192.7 L405.3,191.8 M398.2,198.3 L401.2,196.5 L402.5,198.1 L401.7,200.1 L399.4,200.1 L398.2,198.3 M334.1,70.1 L335.2,69.7 L338.0,70.1 L338.7,70.6 L337.5,71.7 L337.3,74.0 L336.4,74.2 L337.3,76.7 L336.6,78.5 M346.6,67.4 L349.0,68.5 L352.5,69.0 L355.6,69.2 M363.3,66.7 L362.4,66.0 L362.4,63.1 L362.2,62.9 M362.2,62.9 L360.8,62.4 L362.2,60.4 L363.4,59.9 M363.4,59.9 L364.5,57.4 L361.3,56.5 M361.3,56.5 L360.2,56.5 L357.4,55.6 L354.3,53.6 M355.9,53.1 L358.8,53.1 L360.6,54.1 M361.3,56.5 L360.6,54.1 M360.6,54.1 L360.9,52.3 L362.4,51.5 L362.7,49.7 M365.4,46.8 L367.6,47.0 M375.4,48.6 L376.0,51.1 L376.7,53.8 M376.7,53.8 L371.5,55.0 L374.5,57.7 M374.5,57.7 L373.1,60.1 L368.6,60.1 L367.0,60.1 M363.4,59.9 L367.0,60.1 M362.2,62.9 L365.1,62.2 L366.0,62.9 L368.6,61.3 L367.0,60.1 M368.6,61.3 L371.7,61.0 L374.4,61.8 M374.4,61.8 L374.2,63.5 M374.5,57.7 L376.7,57.4 L380.3,58.1 M380.3,58.1 L380.4,59.2 L378.7,61.1 M374.4,61.8 L378.7,61.1 M376.7,53.8 L380.1,55.0 L383.5,56.5 M380.3,58.1 L383.5,56.5 M383.5,56.5 L390.1,57.2 M380.4,59.2 L383.5,59.5 L386.5,58.3 L389.4,58.4 M390.1,57.2 L389.4,58.4 M390.1,57.2 L392.8,54.1 L392.1,52.9 M392.1,52.9 L391.9,51.1 L392.6,48.6 M392.6,48.6 L390.7,47.7 M390.7,47.7 L384.9,47.6 M390.7,47.7 L390.5,46.6 L387.6,46.1 M392.6,48.6 L395.5,48.0 L397.5,45.4 M387.4,44.6 L393.7,44.3 L397.5,45.4 M397.5,45.4 L400.1,44.6 M400.1,44.6 L399.4,42.1 M393.3,41.4 L396.4,41.6 L399.4,42.1 M399.4,42.1 L398.9,39.6 L400.0,38.5 M400.1,44.6 L405.1,45.5 L405.3,47.2 L408.4,49.5 L405.9,50.0 L406.8,51.8 M392.1,52.9 L398.5,52.7 L404.4,53.2 L406.8,51.8 M406.8,51.8 L411.1,52.5 L413.6,54.9 L417.9,55.8 L421.6,56.3 L421.1,59.3 L418.2,60.8 M389.4,58.4 L390.8,59.2 L394.4,59.7 L397.5,58.6 L400.0,58.4 L402.1,59.3 L403.7,62.0 L400.3,63.6 L402.8,64.2 M397.5,58.6 L400.1,61.3 L400.3,63.6 M390.8,59.2 L388.3,61.5 L386.2,62.6 M386.2,62.6 L383.7,62.9 L381.2,62.9 L379.0,61.8 L378.7,61.1 M386.2,62.6 L388.1,64.7 L390.5,65.4 M390.5,66.0 L392.8,66.9 L398.2,66.2 L401.0,66.9 M390.5,65.4 L389.9,69.4 M389.9,69.4 L391.0,71.2 L393.7,70.8 L397.1,70.5 M397.1,70.5 L400.0,69.9 M397.1,70.5 L396.4,72.1 M385.6,74.0 L387.4,72.1 L391.0,71.2 M384.6,70.1 L386.5,69.6 L386.7,71.7 L387.4,72.1 M374.2,63.6 L377.2,63.6 L378.5,64.2 L383.9,64.5 L384.6,64.7 L384.0,67.2 L383.0,69.0 M384.0,67.2 L386.2,68.5 L386.5,69.6 M386.5,69.6 L389.9,69.4 M378.5,64.2 L378.1,65.1 L381.3,68.1 L383.0,69.0 M383.9,64.5 L383.7,62.9 M370.4,39.4 L372.2,36.8 M414.5,80.7 L415.5,79.2 L417.9,79.2 L421.4,79.1 L425.7,78.7 M425.7,78.7 L430.0,78.5 M430.0,78.5 L428.6,74.6 L430.0,74.0 M430.0,74.0 L428.1,73.3 L427.7,71.5 L424.3,70.8 M421.4,67.4 L425.9,67.8 L429.5,68.7 L432.9,70.1 M432.9,70.1 L435.4,71.3 L436.8,70.3 M427.7,71.5 L430.4,71.2 L432.9,70.1 M430.4,71.2 L433.1,74.4 L433.1,75.5 M430.0,74.0 L433.1,75.5 L435.8,74.0 L437.4,76.4 M425.7,78.7 L423.6,82.8 L419.3,85.3 M419.3,85.3 L415.7,87.3 L413.7,86.6 M414.1,83.2 L415.3,83.9 L414.1,85.5 L413.7,86.6 M411.2,89.1 L412.3,92.3 M413.7,86.6 L413.4,88.7 L412.5,92.3 M412.5,92.5 L414.5,92.9 L417.0,91.4 L417.9,90.5 L416.1,88.7 L419.6,87.5 L420.0,87.5 M419.3,85.3 L420.0,87.5 M420.0,87.5 L422.1,88.0 L425.2,89.5 L429.8,92.9 L433.1,93.0 L434.9,93.2 M433.1,93.0 L434.0,91.4 L435.8,91.4 M434.9,93.2 L435.2,94.1 L436.5,94.1 M430.0,78.5 L431.1,80.7 L432.5,82.1 L431.1,84.3 L432.4,86.0 L435.6,88.2 L435.2,89.8 L436.6,91.4 M426.4,115.8 L427.2,114.0 L429.5,114.0 L434.0,114.9 L435.8,112.6 L442.9,111.1 M442.9,111.1 L444.9,115.3 M442.9,111.1 L448.3,109.3 L449.5,105.8 M449.5,105.8 L448.6,104.5 L444.0,104.2 L442.2,102.0 M449.5,105.8 L449.7,102.2 L450.8,100.6 M440.8,100.9 L441.5,101.1 M446.3,78.3 L449.2,77.1 L452.2,76.7 L456.0,78.0 L459.4,79.6 M459.4,79.6 L458.3,83.7 L458.8,88.7 L460.4,89.6 L458.8,91.8 M458.8,91.8 L461.7,92.5 L463.0,96.4 L460.1,100.0 M458.8,91.8 L468.5,91.6 L469.2,89.3 L473.9,88.0 L475.1,85.5 L477.1,84.1 L478.0,80.0 L483.9,78.5 M459.4,79.6 L461.3,81.9 L465.3,80.1 L468.9,78.2 L471.5,78.9 L474.2,77.8 L477.8,77.3 L478.0,79.4 L481.0,78.2 L483.9,78.5 M471.9,102.7 L476.9,101.5 L475.1,95.4 L480.3,91.4 L483.4,89.5 L482.8,86.4 L487.3,83.0 L489.1,81.6 M489.1,81.6 L491.1,83.7 L490.7,89.3 L494.8,91.1 M494.8,91.1 L493.2,93.6 L500.2,95.9 L507.5,97.9 L507.5,95.2 M494.8,91.1 L503.8,95.0 L507.5,95.2 M509.0,96.3 L510.6,94.7 L514.5,95.4 L514.7,97.0 L510.6,97.3 L509.0,96.3 M507.5,95.2 L509.0,96.3 M514.5,95.4 L519.9,92.9 L524.0,94.7 M524.0,94.7 L520.2,98.6 L519.2,100.9 L516.8,102.2 L517.0,105.4 L515.6,107.0 M507.5,97.9 L509.1,98.2 L510.6,99.8 L515.2,100.4 L514.9,102.2 L513.1,102.7 L513.8,104.2 L515.0,102.7 L515.6,107.0 M507.5,97.9 L507.5,101.3 L508.8,101.6 L509.1,105.8 M524.0,94.7 L526.5,95.7 L526.5,98.8 L524.5,100.7 L524.3,102.4 L526.8,103.6 L527.4,105.6 L531.0,106.7 M531.0,106.7 L529.0,108.8 M529.0,108.8 L525.2,109.7 L524.2,112.0 L526.3,116.3 L525.6,118.1 L527.2,120.5 L528.1,124.0 L526.7,126.9 M529.0,108.8 L529.9,110.2 L531.1,110.2 L530.8,113.8 L532.6,112.6 L536.0,112.4 L537.2,114.0 L537.4,115.8 L538.8,117.2 L538.5,119.4 M538.5,119.4 L534.2,119.6 L533.1,120.8 L534.0,124.2 M532.6,105.0 L534.2,107.9 L537.0,108.5 L536.0,110.2 L538.1,111.9 L540.6,115.4 L542.2,118.9 M531.0,106.7 L532.0,107.2 L532.6,105.0 M538.5,119.4 L542.2,118.9 M542.2,118.9 L542.2,123.2 L539.6,125.3 L536.7,126.6 M532.6,105.0 L538.3,103.4 L540.8,104.3 L543.1,106.7 M528.3,133.5 L530.8,135.0 L532.6,134.1 M546.0,141.6 L547.6,143.6 L550.3,142.7 L555.3,142.7 L557.1,137.5 L560.3,137.7 M602.2,149.9 L602.2,161.5 M571.8,162.0 L573.7,161.9 M507.0,57.0 L512.5,61.7 L512.7,64.2 L520.6,65.8 L522.4,68.7 L531.5,69.0 L537.8,70.6 L547.4,68.5 L550.1,66.9 L549.2,65.4 L553.2,65.1 L557.3,63.3 L560.0,61.7 L564.4,61.5 L561.0,59.3 L556.6,59.7 L558.7,55.9 M507.0,57.0 L515.4,54.1 L525.1,55.8 L526.8,51.8 L532.8,53.2 L532.9,54.5 L540.8,55.0 L544.2,56.8 L552.4,55.9 L558.7,55.9 M558.7,55.9 L564.3,54.9 L566.0,50.9 L566.8,49.7 L571.1,49.3 L574.6,50.2 L578.2,55.9 L583.6,57.5 L584.3,59.7 L591.5,58.4 L588.1,64.4 L585.9,64.0 L584.5,68.1 L583.6,69.2 M583.6,69.2 L582.0,69.2 L579.1,69.9 L579.3,71.0 L577.0,70.3 L572.5,73.3 M576.6,77.4 L579.6,76.0 M437.9,62.2 L436.6,59.5 L434.0,58.8 L433.1,58.4 L434.5,55.0 L437.0,55.8 L440.8,52.5 L445.4,52.9 L449.5,54.5 L454.7,53.8 L459.7,54.1 L457.2,52.0 L459.0,48.6 L466.5,47.7 L471.9,46.6 L476.9,48.0 L481.2,49.3 L486.8,48.0 L489.3,49.7 L493.0,54.1 L499.1,53.8 L502.3,56.3 L506.1,57.2 L507.0,57.0 M506.1,57.2 L503.4,58.4 L502.9,60.8 L498.4,60.6 L497.1,63.6 L493.0,64.5 L494.5,67.8 L493.4,69.6 M493.4,69.6 L487.5,71.7 L481.7,74.4 M481.7,74.4 L484.1,78.2 L483.9,78.5 M483.9,78.5 L485.9,80.8 L489.1,81.6 M443.8,70.3 L447.7,69.9 L450.1,71.2 L450.1,64.5 L454.7,63.5 L459.0,65.6 L460.8,67.2 L466.0,66.9 L468.1,68.1 L468.0,69.9 L471.5,71.5 L476.7,69.4 L476.9,68.8 M476.9,68.8 L481.4,69.2 L482.8,67.8 L491.2,68.5 L493.4,69.6 M450.1,71.2 L451.9,71.2 L454.7,68.5 L457.2,69.6 L460.6,71.5 L465.1,75.5 L468.9,78.2 M468.9,78.2 L471.5,76.2 L471.0,74.2 L476.0,73.5 L481.7,74.4 M476.7,69.4 L478.2,70.8 L480.5,72.1 L478.2,73.1 L476.0,73.5" fill="none" stroke="#e87a2a" stroke-opacity="0.9" stroke-width="0.6" stroke-linejoin="round"/><path d="M59.6,136 H68.6 V140.6 H59.6 Z M68.6,140.6 H77 L85,157.4 H115 V192 L107,197 H86 L71,188 V166 H51 M115,184.4 H129.4 V191.4 H115 M31,145 H57 V151 H31 M57,151 H81 M36,151 V159.4 M51,151 V159.4 M28,159.4 H65 V151 M51,159.4 V175 H41 V171 M28,181 H46 V188 H28 M46,188 H71 M28,166 H51 M632.4,168.1 H661.3 V186.8 H632.4 Z M632.4,175.8 H661.3 M656.9,164.3 H672 M668,164.3 V186 M601,151 H652 V140 M618,151 V158 H608 M583.3,132 V140 M592.5,146 H652 V151 M607,156 H633 V164" fill="none" stroke="#e87a2a" stroke-opacity="0.85" stroke-width="0.6"/>
<path d="M745.7,37.7 L743.6,43.2 L741.5,48.7 L739.7,54.2 L738.0,59.7 L736.3,65.2 L734.9,70.7 L733.8,76.2 L733.1,81.7 L732.3,87.2 L731.5,92.8 L730.7,98.3 L729.9,103.8 L729.2,109.3 L728.6,114.8 L728.0,120.3 L727.5,125.8 L727.0,131.3 L726.5,136.8 L726.0,142.3 L725.5,147.8 L725.0,153.3 L724.5,158.8 L724.0,164.3 L723.5,169.8 L723.0,175.3 L722.4,180.8 L721.9,186.3 L721.3,191.8 L720.6,197.3 L719.9,202.9 L719.0,208.4 L718.0,213.9 L717.0,219.4 L715.8,224.9 L714.4,230.4 L712.6,235.9 L710.8,241.4 L708.9,246.9 L706.8,252.4 M719.6,37.7 L717.4,43.2 L715.4,48.7 L713.5,54.2 L711.7,59.7 L710.1,65.2 L708.6,70.7 L707.6,76.2 L706.8,81.7 L706.0,87.2 L705.2,92.8 L704.4,98.3 L703.6,103.8 L702.9,109.3 L702.2,114.8 L701.7,120.3 L701.1,125.8 L700.6,131.3 L700.0,136.8 L699.5,142.3 L699.0,147.8 L698.5,153.3 L698.0,158.8 L697.5,164.3 L696.9,169.8 L696.4,175.3 L695.9,180.8 L695.3,186.3 L694.7,191.8 L694.0,197.3 L693.2,202.9 L692.3,208.4 L691.3,213.9 L690.3,219.4 L689.1,224.9 L687.6,230.4 L685.9,235.9 L684.1,241.4 L682.1,246.9 L680.1,252.4 M693.4,37.7 L691.2,43.2 L689.2,48.7 L687.3,54.2 L685.5,59.7 L683.9,65.2 L682.4,70.7 L681.3,76.2 L680.5,81.7 L679.7,87.2 L678.9,92.8 L678.0,98.3 L677.2,103.8 L676.5,109.3 L675.9,114.8 L675.3,120.3 L674.7,125.8 L674.2,131.3 L673.6,136.8 L673.1,142.3 L672.5,147.8 L672.0,153.3 L671.5,158.8 L670.9,164.3 L670.4,169.8 L669.9,175.3 L669.3,180.8 L668.7,186.3 L668.1,191.8 L667.4,197.3 L666.6,202.9 L665.7,208.4 L664.7,213.9 L663.6,219.4 L662.5,224.9 L660.9,230.4 L659.2,235.9 L657.3,241.4 L655.4,246.9 L653.3,252.4 M667.3,37.7 L665.1,43.2 L663.0,48.7 L661.1,54.2 L659.3,59.7 L657.7,65.2 L656.2,70.7 L655.1,76.2 L654.2,81.7 L653.4,87.2 L652.6,92.8 L651.7,98.3 L650.9,103.8 L650.2,109.3 L649.5,114.8 L648.9,120.3 L648.3,125.8 L647.7,131.3 L647.2,136.8 L646.6,142.3 L646.0,147.8 L645.5,153.3 L645.0,158.8 L644.4,164.3 L643.9,169.8 L643.3,175.3 L642.7,180.8 L642.1,186.3 L641.5,191.8 L640.8,197.3 L640.0,202.9 L639.0,208.4 L638.0,213.9 L636.9,219.4 L635.8,224.9 L634.2,230.4 L632.4,235.9 L630.6,241.4 L628.6,246.9 L626.5,252.4 M641.1,37.7 L638.9,43.2 L636.8,48.7 L634.9,54.2 L633.1,59.7 L631.4,65.2 L629.9,70.7 L628.8,76.2 L628.0,81.7 L627.1,87.2 L626.3,92.8 L625.4,98.3 L624.6,103.8 L623.8,109.3 L623.1,114.8 L622.5,120.3 L621.9,125.8 L621.3,131.3 L620.7,136.8 L620.1,142.3 L619.6,147.8 L619.0,153.3 L618.5,158.8 L617.9,164.3 L617.4,169.8 L616.8,175.3 L616.2,180.8 L615.5,186.3 L614.9,191.8 L614.2,197.3 L613.3,202.9 L612.4,208.4 L611.4,213.9 L610.3,219.4 L609.1,224.9 L607.5,230.4 L605.7,235.9 L603.8,241.4 L601.9,246.9 L599.7,252.4 M615.0,37.7 L612.7,43.2 L610.6,48.7 L608.7,54.2 L606.9,59.7 L605.2,65.2 L603.7,70.7 L602.5,76.2 L601.7,81.7 L600.8,87.2 L599.9,92.8 L599.1,98.3 L598.2,103.8 L597.4,109.3 L596.8,114.8 L596.1,120.3 L595.5,125.8 L594.9,131.3 L594.3,136.8 L593.7,142.3 L593.1,147.8 L592.5,153.3 L592.0,158.8 L591.4,164.3 L590.8,169.8 L590.2,175.3 L589.6,180.8 L589.0,186.3 L588.3,191.8 L587.6,197.3 L586.7,202.9 L585.7,208.4 L584.7,213.9 L583.6,219.4 L582.4,224.9 L580.8,230.4 L579.0,235.9 L577.1,241.4 L575.1,246.9 L573.0,252.4 M588.8,37.7 L586.6,43.2 L584.5,48.7 L582.5,54.2 L580.7,59.7 L579.0,65.2 L577.4,70.7 L576.3,76.2 L575.4,81.7 L574.5,87.2 L573.6,92.8 L572.7,98.3 L571.9,103.8 L571.1,109.3 L570.4,114.8 L569.7,120.3 L569.1,125.8 L568.5,131.3 L567.9,136.8 L567.2,142.3 L566.6,147.8 L566.0,153.3 L565.5,158.8 L564.9,164.3 L564.3,169.8 L563.7,175.3 L563.0,180.8 L562.4,186.3 L561.7,191.8 L560.9,197.3 L560.1,202.9 L559.1,208.4 L558.0,213.9 L556.9,219.4 L555.7,224.9 L554.1,230.4 L552.3,235.9 L550.4,241.4 L548.3,246.9 L546.2,252.4 M562.7,37.7 L560.4,43.2 L558.3,48.7 L556.3,54.2 L554.5,59.7 L552.7,65.2 L551.2,70.7 L550.0,76.2 L549.1,81.7 L548.2,87.2 L547.3,92.8 L546.4,98.3 L545.5,103.8 L544.7,109.3 L544.0,114.8 L543.3,120.3 L542.7,125.8 L542.0,131.3 L541.4,136.8 L540.8,142.3 L540.2,147.8 L539.6,153.3 L539.0,158.8 L538.4,164.3 L537.8,169.8 L537.1,175.3 L536.5,180.8 L535.8,186.3 L535.1,191.8 L534.3,197.3 L533.5,202.9 L532.5,208.4 L531.4,213.9 L530.2,219.4 L529.0,224.9 L527.4,230.4 L525.5,235.9 L523.6,241.4 L521.6,246.9 L519.4,252.4 M536.5,37.7 L534.2,43.2 L532.1,48.7 L530.1,54.2 L528.2,59.7 L526.5,65.2 L524.9,70.7 L523.7,76.2 L522.8,81.7 L521.9,87.2 L521.0,92.8 L520.1,98.3 L519.2,103.8 L518.4,109.3 L517.6,114.8 L516.9,120.3 L516.3,125.8 L515.6,131.3 L515.0,136.8 L514.3,142.3 L513.7,147.8 L513.1,153.3 L512.5,158.8 L511.8,164.3 L511.2,169.8 L510.6,175.3 L509.9,180.8 L509.2,186.3 L508.5,191.8 L507.7,197.3 L506.8,202.9 L505.8,208.4 L504.7,213.9 L503.6,219.4 L502.3,224.9 L500.7,230.4 L498.8,235.9 L496.9,241.4 L494.8,246.9 L492.7,252.4 M510.4,37.7 L508.1,43.2 L505.9,48.7 L503.9,54.2 L502.0,59.7 L500.3,65.2 L498.7,70.7 L497.5,76.2 L496.6,81.7 L495.7,87.2 L494.7,92.8 L493.8,98.3 L492.9,103.8 L492.0,109.3 L491.3,114.8 L490.5,120.3 L489.9,125.8 L489.2,131.3 L488.5,136.8 L487.9,142.3 L487.2,147.8 L486.6,153.3 L486.0,158.8 L485.3,164.3 L484.7,169.8 L484.0,175.3 L483.3,180.8 L482.6,186.3 L481.9,191.8 L481.1,197.3 L480.2,202.9 L479.2,208.4 L478.0,213.9 L476.9,219.4 L475.6,224.9 L474.0,230.4 L472.1,235.9 L470.1,241.4 L468.1,246.9 L465.9,252.4 M484.2,37.7 L481.9,43.2 L479.7,48.7 L477.7,54.2 L475.8,59.7 L474.1,65.2 L472.4,70.7 L471.2,76.2 L470.3,81.7 L469.4,87.2 L468.4,92.8 L467.4,98.3 L466.5,103.8 L465.7,109.3 L464.9,114.8 L464.2,120.3 L463.5,125.8 L462.8,131.3 L462.1,136.8 L461.4,142.3 L460.8,147.8 L460.1,153.3 L459.5,158.8 L458.8,164.3 L458.2,169.8 L457.5,175.3 L456.8,180.8 L456.1,186.3 L455.3,191.8 L454.5,197.3 L453.6,202.9 L452.5,208.4 L451.4,213.9 L450.2,219.4 L448.9,224.9 L447.3,230.4 L445.4,235.9 L443.4,241.4 L441.3,246.9 L439.1,252.4 M458.1,37.7 L455.7,43.2 L453.5,48.7 L451.5,54.2 L449.6,59.7 L447.8,65.2 L446.2,70.7 L445.0,76.2 L444.0,81.7 L443.1,87.2 L442.1,92.8 L441.1,98.3 L440.2,103.8 L439.3,109.3 L438.5,114.8 L437.8,120.3 L437.1,125.8 L436.4,131.3 L435.7,136.8 L435.0,142.3 L434.3,147.8 L433.6,153.3 L433.0,158.8 L432.3,164.3 L431.6,169.8 L430.9,175.3 L430.2,180.8 L429.5,186.3 L428.7,191.8 L427.9,197.3 L426.9,202.9 L425.9,208.4 L424.7,213.9 L423.5,219.4 L422.2,224.9 L420.6,230.4 L418.6,235.9 L416.7,241.4 L414.6,246.9 L412.3,252.4 M431.9,37.7 L429.6,43.2 L427.4,48.7 L425.3,54.2 L423.4,59.7 L421.6,65.2 L419.9,70.7 L418.7,76.2 L417.7,81.7 L416.8,87.2 L415.8,92.8 L414.8,98.3 L413.8,103.8 L412.9,109.3 L412.1,114.8 L411.4,120.3 L410.7,125.8 L409.9,131.3 L409.2,136.8 L408.5,142.3 L407.8,147.8 L407.1,153.3 L406.5,158.8 L405.8,164.3 L405.1,169.8 L404.4,175.3 L403.6,180.8 L402.9,186.3 L402.1,191.8 L401.3,197.3 L400.3,202.9 L399.2,208.4 L398.1,213.9 L396.9,219.4 L395.5,224.9 L393.8,230.4 L391.9,235.9 L389.9,241.4 L387.8,246.9 L385.6,252.4 M405.8,37.7 L403.4,43.2 L401.2,48.7 L399.1,54.2 L397.2,59.7 L395.4,65.2 L393.7,70.7 L392.4,76.2 L391.5,81.7 L390.5,87.2 L389.5,92.8 L388.5,98.3 L387.5,103.8 L386.6,109.3 L385.8,114.8 L385.0,120.3 L384.2,125.8 L383.5,131.3 L382.8,136.8 L382.1,142.3 L381.4,147.8 L380.7,153.3 L380.0,158.8 L379.3,164.3 L378.6,169.8 L377.8,175.3 L377.1,180.8 L376.3,186.3 L375.5,191.8 L374.7,197.3 L373.7,202.9 L372.6,208.4 L371.4,213.9 L370.2,219.4 L368.8,224.9 L367.1,230.4 L365.2,235.9 L363.2,241.4 L361.0,246.9 L358.8,252.4 M379.6,37.7 L377.2,43.2 L375.0,48.7 L372.9,54.2 L371.0,59.7 L369.1,65.2 L367.5,70.7 L366.2,76.2 L365.2,81.7 L364.2,87.2 L363.2,92.8 L362.1,98.3 L361.1,103.8 L360.2,109.3 L359.4,114.8 L358.6,120.3 L357.8,125.8 L357.1,131.3 L356.4,136.8 L355.6,142.3 L354.9,147.8 L354.2,153.3 L353.5,158.8 L352.7,164.3 L352.0,169.8 L351.3,175.3 L350.5,180.8 L349.7,186.3 L348.9,191.8 L348.0,197.3 L347.1,202.9 L345.9,208.4 L344.7,213.9 L343.5,219.4 L342.1,224.9 L340.4,230.4 L338.5,235.9 L336.4,241.4 L334.3,246.9 L332.0,252.4 M353.5,37.7 L351.1,43.2 L348.8,48.7 L346.7,54.2 L344.7,59.7 L342.9,65.2 L341.2,70.7 L339.9,76.2 L338.9,81.7 L337.9,87.2 L336.8,92.8 L335.8,98.3 L334.8,103.8 L333.9,109.3 L333.0,114.8 L332.2,120.3 L331.4,125.8 L330.7,131.3 L329.9,136.8 L329.2,142.3 L328.4,147.8 L327.7,153.3 L327.0,158.8 L326.2,164.3 L325.5,169.8 L324.7,175.3 L323.9,180.8 L323.1,186.3 L322.3,191.8 L321.4,197.3 L320.4,202.9 L319.3,208.4 L318.1,213.9 L316.8,219.4 L315.5,224.9 L313.7,230.4 L311.7,235.9 L309.7,241.4 L307.5,246.9 L305.2,252.4 M327.3,37.7 L324.9,43.2 L322.6,48.7 L320.5,54.2 L318.5,59.7 L316.7,65.2 L315.0,70.7 L313.7,76.2 L312.6,81.7 L311.6,87.2 L310.5,92.8 L309.5,98.3 L308.5,103.8 L307.5,109.3 L306.6,114.8 L305.8,120.3 L305.0,125.8 L304.3,131.3 L303.5,136.8 L302.7,142.3 L301.9,147.8 L301.2,153.3 L300.5,158.8 L299.7,164.3 L299.0,169.8 L298.2,175.3 L297.4,180.8 L296.6,186.3 L295.7,191.8 L294.8,197.3 L293.8,202.9 L292.7,208.4 L291.4,213.9 L290.2,219.4 L288.8,224.9 L287.0,230.4 L285.0,235.9 L283.0,241.4 L280.8,246.9 L278.5,252.4 M301.2,37.7 L298.7,43.2 L296.5,48.7 L294.3,54.2 L292.3,59.7 L290.4,65.2 L288.7,70.7 L287.4,76.2 L286.3,81.7 L285.3,87.2 L284.2,92.8 L283.2,98.3 L282.1,103.8 L281.2,109.3 L280.3,114.8 L279.4,120.3 L278.6,125.8 L277.8,131.3 L277.1,136.8 L276.3,142.3 L275.5,147.8 L274.7,153.3 L274.0,158.8 L273.2,164.3 L272.4,169.8 L271.6,175.3 L270.8,180.8 L270.0,186.3 L269.1,191.8 L268.2,197.3 L267.2,202.9 L266.0,208.4 L264.8,213.9 L263.5,219.4 L262.1,224.9 L260.3,230.4 L258.3,235.9 L256.2,241.4 L254.0,246.9 L251.7,252.4 M275.0,37.7 L272.6,43.2 L270.3,48.7 L268.1,54.2 L266.1,59.7 L264.2,65.2 L262.5,70.7 L261.1,76.2 L260.1,81.7 L259.0,87.2 L257.9,92.8 L256.8,98.3 L255.8,103.8 L254.8,109.3 L253.9,114.8 L253.0,120.3 L252.2,125.8 L251.4,131.3 L250.6,136.8 L249.8,142.3 L249.0,147.8 L248.2,153.3 L247.5,158.8 L246.7,164.3 L245.9,169.8 L245.1,175.3 L244.3,180.8 L243.4,186.3 L242.5,191.8 L241.6,197.3 L240.5,202.9 L239.4,208.4 L238.1,213.9 L236.8,219.4 L235.4,224.9 L233.6,230.4 L231.6,235.9 L229.5,241.4 L227.3,246.9 L224.9,252.4 M248.9,37.7 L246.4,43.2 L244.1,48.7 L241.9,54.2 L239.9,59.7 L238.0,65.2 L236.2,70.7 L234.9,76.2 L233.8,81.7 L232.7,87.2 L231.6,92.8 L230.5,98.3 L229.4,103.8 L228.4,109.3 L227.5,114.8 L226.7,120.3 L225.8,125.8 L225.0,131.3 L224.2,136.8 L223.4,142.3 L222.5,147.8 L221.7,153.3 L221.0,158.8 L220.2,164.3 L219.4,169.8 L218.5,175.3 L217.7,180.8 L216.8,186.3 L215.9,191.8 L215.0,197.3 L213.9,202.9 L212.7,208.4 L211.4,213.9 L210.1,219.4 L208.7,224.9 L206.9,230.4 L204.8,235.9 L202.7,241.4 L200.5,246.9 L198.2,252.4 M222.7,37.7 L220.2,43.2 L217.9,48.7 L215.7,54.2 L213.7,59.7 L211.8,65.2 L210.0,70.7 L208.6,76.2 L207.5,81.7 L206.4,87.2 L205.3,92.8 L204.2,98.3 L203.1,103.8 L202.1,109.3 L201.2,114.8 L200.3,120.3 L199.4,125.8 L198.6,131.3 L197.7,136.8 L196.9,142.3 L196.1,147.8 L195.3,153.3 L194.5,158.8 L193.6,164.3 L192.8,169.8 L192.0,175.3 L191.1,180.8 L190.2,186.3 L189.3,191.8 L188.4,197.3 L187.3,202.9 L186.1,208.4 L184.8,213.9 L183.4,219.4 L182.0,224.9 L180.2,230.4 L178.1,235.9 L176.0,241.4 L173.7,246.9 L171.4,252.4 M196.6,37.7 L194.1,43.2 L191.7,48.7 L189.5,54.2 L187.5,59.7 L185.5,65.2 L183.7,70.7 L182.3,76.2 L181.2,81.7 L180.1,87.2 L179.0,92.8 L177.9,98.3 L176.8,103.8 L175.7,109.3 L174.8,114.8 L173.9,120.3 L173.0,125.8 L172.2,131.3 L171.3,136.8 L170.4,142.3 L169.6,147.8 L168.8,153.3 L168.0,158.8 L167.1,164.3 L166.3,169.8 L165.4,175.3 L164.6,180.8 L163.7,186.3 L162.7,191.8 L161.8,197.3 L160.7,202.9 L159.4,208.4 L158.1,213.9 L156.8,219.4 L155.3,224.9 L153.5,230.4 L151.4,235.9 L149.2,241.4 L147.0,246.9 L144.6,252.4 M170.4,37.7 L167.9,43.2 L165.5,48.7 L163.3,54.2 L161.3,59.7 L159.3,65.2 L157.5,70.7 L156.1,76.2 L155.0,81.7 L153.8,87.2 L152.7,92.8 L151.5,98.3 L150.4,103.8 L149.4,109.3 L148.4,114.8 L147.5,120.3 L146.6,125.8 L145.7,131.3 L144.9,136.8 L144.0,142.3 L143.1,147.8 L142.3,153.3 L141.5,158.8 L140.6,164.3 L139.8,169.8 L138.9,175.3 L138.0,180.8 L137.1,186.3 L136.1,191.8 L135.1,197.3 L134.0,202.9 L132.8,208.4 L131.5,213.9 L130.1,219.4 L128.6,224.9 L126.8,230.4 L124.7,235.9 L122.5,241.4 L120.2,246.9 L117.8,252.4 M144.3,37.7 L141.7,43.2 L139.4,48.7 L137.1,54.2 L135.0,59.7 L133.1,65.2 L131.2,70.7 L129.8,76.2 L128.7,81.7 L127.5,87.2 L126.4,92.8 L125.2,98.3 L124.1,103.8 L123.0,109.3 L122.0,114.8 L121.1,120.3 L120.2,125.8 L119.3,131.3 L118.4,136.8 L117.5,142.3 L116.7,147.8 L115.8,153.3 L115.0,158.8 L114.1,164.3 L113.2,169.8 L112.3,175.3 L111.4,180.8 L110.5,186.3 L109.5,191.8 L108.5,197.3 L107.4,202.9 L106.1,208.4 L104.8,213.9 L103.4,219.4 L101.9,224.9 L100.1,230.4 L98.0,235.9 L95.8,241.4 L93.5,246.9 L91.1,252.4 M118.1,37.7 L115.6,43.2 L113.2,48.7 L110.9,54.2 L108.8,59.7 L106.8,65.2 L105.0,70.7 L103.6,76.2 L102.4,81.7 L101.3,87.2 L100.1,92.8 L98.9,98.3 L97.7,103.8 L96.7,109.3 L95.7,114.8 L94.7,120.3 L93.8,125.8 L92.9,131.3 L92.0,136.8 L91.1,142.3 L90.2,147.8 L89.3,153.3 L88.4,158.8 L87.6,164.3 L86.7,169.8 L85.8,175.3 L84.9,180.8 L83.9,186.3 L83.0,191.8 L81.9,197.3 L80.8,202.9 L79.5,208.4 L78.1,213.9 L76.7,219.4 L75.2,224.9 L73.3,230.4 L71.2,235.9 L69.0,241.4 L66.7,246.9 L64.3,252.4 M92.0,37.7 L89.4,43.2 L87.0,48.7 L84.7,54.2 L82.6,59.7 L80.6,65.2 L78.8,70.7 L77.3,76.2 L76.1,81.7 L75.0,87.2 L73.8,92.8 L72.6,98.3 L71.4,103.8 L70.3,109.3 L69.3,114.8 L68.3,120.3 L67.4,125.8 L66.5,131.3 L65.6,136.8 L64.6,142.3 L63.7,147.8 L62.8,153.3 L61.9,158.8 L61.1,164.3 L60.2,169.8 L59.2,175.3 L58.3,180.8 L57.3,186.3 L56.4,191.8 L55.3,197.3 L54.1,202.9 L52.8,208.4 L51.5,213.9 L50.1,219.4 L48.5,224.9 L46.6,230.4 L44.5,235.9 L42.3,241.4 L40.0,246.9 L37.5,252.4 M65.8,37.7 L63.3,43.2 L60.8,48.7 L58.5,54.2 L56.4,59.7 L54.4,65.2 L52.5,70.7 L51.0,76.2 L49.9,81.7 L48.7,87.2 L47.4,92.8 L46.2,98.3 L45.1,103.8 L43.9,109.3 L42.9,114.8 L41.9,120.3 L41.0,125.8 L40.0,131.3 L39.1,136.8 L38.2,142.3 L37.3,147.8 L36.3,153.3 L35.4,158.8 L34.5,164.3 L33.6,169.8 L32.7,175.3 L31.7,180.8 L30.8,186.3 L29.8,191.8 L28.7,197.3 L27.5,202.9 L26.2,208.4 L24.8,213.9 L23.4,219.4 L21.8,224.9 L19.9,230.4 L17.8,235.9 L15.5,241.4 L13.2,246.9 L10.8,252.4 M39.7,37.7 L37.1,43.2 L34.6,48.7 L32.3,54.2 L30.2,59.7 L28.2,65.2 L26.3,70.7 L24.8,76.2 L23.6,81.7 L22.4,87.2 L21.1,92.8 L19.9,98.3 L18.7,103.8 L17.6,109.3 L16.5,114.8 L15.5,120.3 L14.6,125.8 L13.6,131.3 L12.7,136.8 L11.7,142.3 L10.8,147.8 L9.9,153.3 L8.9,158.8 L8.0,164.3 L7.1,169.8 L6.1,175.3 L5.2,180.8 L4.2,186.3 L3.2,191.8 L2.1,197.3 L0.9,202.9 L-0.4,208.4 L-1.8,213.9 L-3.3,219.4 L-4.9,224.9 L-6.8,230.4 L-8.9,235.9 L-11.2,241.4 L-13.5,246.9 L-16.0,252.4 M13.5,37.7 L10.9,43.2 L8.5,48.7 L6.1,54.2 L4.0,59.7 L1.9,65.2 L0.0,70.7 L-1.5,76.2 L-2.7,81.7 L-3.9,87.2 L-5.2,92.8 L-6.4,98.3 L-7.6,103.8 L-8.8,109.3 L-9.8,114.8 L-10.8,120.3 L-11.8,125.8 L-12.8,131.3 L-13.8,136.8 L-14.7,142.3 L-15.7,147.8 L-16.6,153.3 L-17.6,158.8 L-18.5,164.3 L-19.4,169.8 L-20.4,175.3 L-21.4,180.8 L-22.4,186.3 L-23.4,191.8 L-24.5,197.3 L-25.7,202.9 L-27.1,208.4 L-28.5,213.9 L-30.0,219.4 L-31.6,224.9 L-33.5,230.4 L-35.7,235.9 L-37.9,241.4 L-40.3,246.9 L-42.8,252.4 M-12.6,37.7 L-15.2,43.2 L-17.7,48.7 L-20.1,54.2 L-22.2,59.7 L-24.3,65.2 L-26.2,70.7 L-27.7,76.2 L-29.0,81.7 L-30.2,87.2 L-31.5,92.8 L-32.7,98.3 L-34.0,103.8 L-35.1,109.3 L-36.2,114.8 L-37.2,120.3 L-38.2,125.8 L-39.2,131.3 L-40.2,136.8 L-41.2,142.3 L-42.1,147.8 L-43.1,153.3 L-44.1,158.8 L-45.0,164.3 L-46.0,169.8 L-47.0,175.3 L-48.0,180.8 L-49.0,186.3 L-50.0,191.8 L-51.1,197.3 L-52.4,202.9 L-53.7,208.4 L-55.2,213.9 L-56.6,219.4 L-58.2,224.9 L-60.2,230.4 L-62.4,235.9 L-64.7,241.4 L-67.1,246.9 L-69.6,252.4" fill="none" stroke="#98947a" stroke-opacity="0.85" stroke-width="1.2"/>
<path d="M28.0,154 L40.5,170 V226.3 L28.0,236" fill="none" stroke="#8a6a12" stroke-width="1.5"/>
<path d="M671.6,59.6 V252.4" fill="none" stroke="#a6d46e" stroke-width="1.0"/>
<path d="M671.5,226 V252.4" fill="none" stroke="#7cc242" stroke-width="1.4"/>
<path d="M671.9,39.8 L654.3,49.8 L671.5,59.6" fill="none" stroke="#6aa12c" stroke-width="1.1"/>
<path d="M55.4,36.8 L55.4,37.6 L59.0,38.4 L60.3,40.0 L63.5,39.8 L66.2,39.8 L68.5,40.0 L68.0,42.1 L66.2,43.4 L62.6,44.8 L59.9,46.1 L57.2,46.8 L54.9,47.5 L58.1,47.2 L61.7,46.4 L65.3,45.4 L68.9,43.9 L71.5,42.1 L74.2,40.9 L75.1,39.4 L76.0,38.2 L77.5,36.8 M77.8,37.3 L78.0,39.1 L81.4,38.5 L84.1,37.8 L85.0,36.8 M88.5,36.8 L91.2,37.6 L95.7,37.6 L99.3,38.2 L102.9,39.4 L105.6,40.9 L107.3,43.0 L110.0,44.8 L112.7,46.6 L115.4,47.2 L116.6,47.9 L119.0,50.2 L120.8,52.0 L121.3,53.8 L126.1,55.6 L129.4,57.0 L130.8,58.6 L130.2,60.4 L129.7,59.0 L126.7,58.4 L127.9,62.2 L127.7,66.3 L127.0,68.5 L127.6,71.7 L127.4,72.8 L128.3,74.8 L129.7,77.1 L130.6,77.4 L130.8,78.5 L131.7,79.6 L132.8,81.2 L134.0,83.2 L136.9,84.1 L137.9,84.6 L140.1,86.6 L141.2,88.2 L142.2,90.5 L144.0,92.3 L145.5,94.7 L144.0,95.4 L145.1,96.6 L147.3,97.3 L149.0,99.5 L149.4,101.3 L152.1,103.3 L153.2,104.2 L153.9,103.3 L152.4,101.6 L151.2,99.5 L150.1,97.3 L148.0,95.0 L146.7,93.2 L144.9,90.5 L144.4,88.2 L146.7,89.1 L148.5,91.4 L150.3,94.1 L152.1,95.9 L153.9,97.7 L155.7,99.8 L158.3,102.2 L159.4,103.6 L160.9,105.8 L161.4,107.6 L160.9,108.6 L162.8,110.8 L165.5,112.6 L168.2,113.8 L171.1,115.1 L174.5,116.3 L178.0,117.1 L180.7,116.2 L183.4,117.4 L184.8,119.2 L187.0,120.3 L189.7,121.2 L192.7,121.5 L193.2,122.1 L195.0,124.0 L196.3,125.5 L196.5,127.3 L197.9,127.6 L199.5,128.7 L200.4,130.0 L201.5,130.7 L203.4,130.9 L205.1,132.1 L206.1,131.8 L206.0,130.5 L207.4,129.2 L209.4,130.0 L209.9,131.8 L211.3,133.5 L211.1,135.3 L211.7,138.0 L211.1,140.5 L208.8,142.3 L206.8,143.6 L206.5,145.2 L205.2,147.0 L205.1,149.1 L206.7,149.9 L206.8,151.1 L206.1,151.3 L204.3,152.9 L204.5,155.1 L205.2,156.3 L207.0,158.1 L208.6,160.6 L209.9,163.1 L211.7,166.7 L213.3,169.9 L215.3,172.6 L219.2,174.8 L222.1,176.6 L223.9,178.2 L224.2,181.0 L224.4,184.6 L223.7,187.3 L223.7,190.9 L222.8,194.5 L222.1,198.1 L221.7,200.8 L221.7,204.4 L220.6,207.9 L218.8,211.5 L218.1,214.2 L218.7,216.5 L217.8,218.7 L217.9,220.1 L219.6,219.8 L219.6,221.4 L219.2,223.2 L218.3,225.9 L216.5,227.7 L214.7,228.9 L216.5,230.3 L215.1,232.1 L214.7,234.8 L215.6,237.5 L217.4,239.3 L219.2,240.7 L221.9,241.6 L223.0,240.6 L223.7,239.7 L225.5,239.3 L227.4,239.1 L226.4,237.7 L226.0,236.4 L227.4,234.8 L228.7,233.4 L231.7,231.4 L232.1,229.8 L229.0,228.2 L229.0,227.3 L230.8,226.0 L232.4,225.7 L233.2,223.7 L234.8,222.1 L235.8,221.7 L236.0,220.5 L233.5,220.8 L233.5,218.3 L235.7,218.9 L238.3,218.5 L238.5,215.5 L240.7,215.1 L245.1,214.2 L246.9,213.3 L248.4,210.6 L247.3,209.4 L247.3,208.3 L245.3,207.0 L245.5,206.1 L246.4,206.9 L249.3,207.8 L251.6,207.8 L254.1,206.0 L255.7,204.4 L258.2,201.7 L259.8,199.3 L260.9,197.5 L262.7,196.1 L263.0,193.6 L262.9,191.6 L264.1,190.0 L267.0,188.2 L269.3,187.3 L272.5,186.4 L274.7,186.2 L276.5,184.6 L276.8,182.8 L278.3,180.7 L278.8,177.8 L280.0,175.7 L280.0,173.0 L280.2,170.3 L280.9,168.5 L282.7,166.4 L284.5,164.0 L286.3,161.7 L287.4,159.5 L287.6,157.7 L286.8,155.1 L284.5,154.3 L282.7,153.4 L280.9,151.8 L278.3,150.4 L275.6,150.4 L272.9,149.5 L270.6,149.9 L270.0,148.4 L267.5,147.0 L264.8,146.3 L263.0,146.6 L262.5,147.9 L260.4,145.6 L260.4,143.4 L260.4,142.0 L258.6,138.4 L257.5,137.3 L255.3,135.7 L253.2,134.6 L251.1,134.4 L247.8,134.4 L245.7,132.8 L244.3,130.9 L241.6,130.0 L239.8,127.6 L238.0,126.9 L238.9,126.2 L236.2,126.2 L233.9,127.1 L231.7,126.2 L228.1,126.2 L227.4,125.1 L225.3,124.6 L224.2,123.7 L224.0,124.8 L222.2,125.7 L221.7,127.3 L222.4,128.4 L221.0,128.7 L221.5,126.4 L222.1,124.0 L220.5,123.9 L218.7,124.9 L216.9,125.3 L215.1,126.2 L214.4,128.0 L212.4,129.6 L212.2,130.9 L211.3,129.8 L210.2,128.5 L207.6,128.0 L205.4,129.1 L203.8,129.1 L202.6,128.5 L201.3,127.3 L200.2,125.5 L199.9,122.8 L200.6,120.1 L200.9,118.3 L199.5,117.1 L196.8,116.7 L194.1,116.9 L192.0,117.1 L190.9,116.5 L191.8,114.7 L192.2,112.4 L193.1,110.2 L194.1,107.9 L194.1,106.7 L191.5,106.7 L188.2,107.4 L187.7,109.3 L187.0,111.1 L185.2,111.9 L181.6,112.6 L178.9,111.5 L177.7,110.6 L175.9,107.9 L175.0,105.4 L174.8,102.2 L175.7,99.0 L175.7,96.3 L177.1,94.3 L179.8,92.9 L181.6,92.0 L184.3,92.1 L186.4,92.7 L188.2,93.0 L190.0,92.9 L189.5,91.2 L191.5,90.9 L194.1,90.7 L196.3,91.2 L197.7,92.1 L199.5,91.2 L201.3,93.0 L201.8,95.0 L202.2,96.4 L203.4,98.2 L204.5,100.0 L206.0,100.0 L206.7,97.7 L205.8,94.7 L204.5,91.8 L204.2,90.0 L205.1,87.8 L207.0,86.4 L208.8,84.6 L210.6,84.3 L212.8,83.0 L214.5,81.9 L214.0,79.8 L213.5,78.9 L213.1,76.2 L213.8,78.3 L214.5,77.8 L215.4,76.2 L214.9,74.8 L215.8,75.3 L217.1,73.9 L217.4,72.6 L220.1,71.9 L221.2,71.5 L222.4,70.8 L224.0,70.6 L224.6,69.9 L223.3,69.4 L223.3,67.9 L224.6,66.7 L226.7,65.6 L229.6,65.1 L230.1,64.4 L232.1,64.0 L234.4,63.1 L233.9,64.0 L231.7,65.4 L231.5,66.9 L232.8,67.2 L235.3,65.4 L238.9,64.5 L240.7,64.0 L242.5,62.7 L241.9,61.0 L239.8,62.4 L239.1,62.9 L236.2,62.9 L234.4,62.2 L233.7,60.8 L232.1,59.3 L234.4,58.6 L234.6,57.5 L230.8,57.2 L227.3,58.3 L224.6,60.1 L222.8,61.1 L224.6,59.5 L226.4,57.9 L229.0,56.7 L230.8,55.2 L235.3,55.0 L239.8,55.2 L243.4,54.7 L246.0,53.2 L248.2,52.9 L250.0,51.5 L250.0,49.3 L247.5,47.7 L244.6,46.6 L242.5,45.7 L240.7,43.9 L239.4,41.6 L237.6,39.8 L235.3,37.6 L234.4,36.8 M233.9,36.8 L232.6,38.5 L231.7,39.8 L229.0,40.7 L226.4,39.8 L225.1,38.5 L225.3,36.8 M211.1,36.8 L211.1,38.5 L209.4,40.0 L212.0,42.1 L212.8,43.9 L211.1,45.5 L207.6,47.0 L208.1,48.9 L208.8,51.1 L207.6,52.9 L206.1,53.2 L204.0,51.6 L202.7,50.2 L202.6,47.5 L202.2,46.3 L197.7,45.9 L193.2,44.8 L190.6,43.2 L187.0,42.5 L184.3,43.0 L183.8,41.2 L181.3,39.8 L180.2,37.6 L180.2,36.8 M185.2,61.5 L187.9,61.7 L190.6,61.0 L192.4,60.4 L193.2,61.8 L195.9,61.7 L198.1,61.8 L198.6,61.0 L197.7,59.3 L195.0,57.9 L191.8,57.9 L189.7,59.2 L185.2,61.5 M192.9,70.5 L194.5,70.3 L195.4,68.1 L195.0,65.4 L196.8,64.0 L197.7,63.1 L195.9,62.9 L194.1,63.3 L192.7,65.3 L193.1,67.2 L192.5,69.0 L192.9,70.5 M198.3,63.1 L200.4,64.0 L200.8,65.8 L199.9,66.9 L202.2,67.9 L203.6,67.2 L204.3,65.3 L206.7,65.3 L205.8,63.8 L204.0,62.7 L200.4,62.6 L198.3,63.1 M200.6,70.5 L203.1,70.8 L205.8,69.9 L208.5,68.5 L205.8,68.8 L203.1,69.6 L201.3,69.7 L200.6,70.5 M207.2,67.6 L210.2,67.6 L213.3,67.2 L212.9,66.2 L210.6,66.5 L207.9,66.9 L207.2,67.6 M176.6,54.9 L177.5,53.4 L176.2,52.0 L174.5,49.3 L172.7,48.8 L173.6,50.6 L175.4,52.9 L176.6,54.9 M129.2,58.4 L126.5,58.1 L124.3,56.8 L120.9,55.2 L120.2,54.1 L122.6,54.3 L125.6,55.4 L127.0,56.7 L128.8,57.7 L129.2,58.4 M115.4,52.0 L112.7,50.2 L111.8,48.4 L114.0,48.4 L114.1,50.2 L115.4,52.0 M73.3,43.0 L76.0,43.0 L77.5,42.0 L76.9,40.9 L75.1,41.2 L73.3,42.1 L73.3,43.0 M243.7,59.9 L246.9,59.9 L249.6,61.0 L250.5,61.1 L253.2,61.3 L255.0,61.5 L255.5,59.9 L254.1,58.3 L253.4,56.8 L250.5,55.8 L249.6,55.2 L250.3,53.2 L248.2,53.4 L246.9,55.0 L245.7,57.4 L243.7,59.2 L243.7,59.9 M234.4,55.8 L238.9,57.2 L239.4,56.7 L236.2,55.8 L234.4,55.8 M234.9,61.5 L238.9,62.0 L238.0,62.7 L234.9,61.5 M197.9,105.9 L199.5,104.5 L202.2,103.8 L205.8,104.0 L208.5,105.0 L211.1,106.3 L213.8,107.2 L217.1,109.0 L215.6,109.5 L210.8,109.6 L211.7,108.3 L209.4,107.6 L206.7,106.1 L204.0,105.4 L201.7,104.7 L199.7,105.8 L197.9,105.9 M216.7,112.2 L218.3,112.6 L221.0,112.6 L222.1,113.5 L224.6,112.4 L227.3,112.6 L227.4,111.7 L224.9,110.6 L223.1,109.7 L221.0,109.5 L218.7,109.5 L219.6,111.1 L220.3,111.9 L216.7,112.2 M209.7,112.4 L212.0,113.3 L213.5,112.9 L212.0,112.0 L209.7,112.4 M229.6,112.9 L232.3,112.8 L232.3,112.2 L229.6,112.0 L229.6,112.9 M239.2,127.1 L240.7,126.9 L240.7,125.8 L239.2,126.0 L239.2,127.1 M209.9,100.4 L210.6,101.8 L211.0,100.4 L209.9,100.4 M240.7,238.1 L243.4,238.8 L246.4,237.7 L244.3,237.2 L240.7,238.1 M227.1,239.5 L223.9,239.8 L223.7,241.1 L222.8,242.0 L221.0,242.9 L224.6,244.1 L228.1,244.9 L230.8,244.1 L233.2,243.2 L230.8,242.4 L228.5,241.1 L227.6,240.0 L227.1,239.5 M281.8,242.0 L285.4,243.1 L284.9,242.4 L281.8,242.0 M268.4,36.8 L270.2,37.8 L272.4,37.8 L273.2,36.8 M358.8,36.8 L359.2,37.6 L359.7,38.9 L359.9,39.6 L361.5,41.1 L363.3,41.2 L365.1,40.7 L366.8,39.6 L368.6,39.1 L368.8,37.8 L369.2,39.1 L369.9,39.6 L370.1,41.2 L371.1,42.0 L372.2,43.7 L372.8,44.6 L372.6,45.5 L373.1,45.9 L375.3,45.9 L375.4,45.0 L378.1,44.6 L379.2,43.7 L379.6,42.1 L379.7,41.2 L379.9,40.2 L381.2,40.0 L382.6,38.9 L383.5,38.0 L383.1,36.8 M390.1,36.8 L390.8,37.8 L392.8,37.6 L394.6,37.1 M400.0,36.8 L402.6,37.7 L403.9,37.8 L401.7,37.8 L400.0,38.2 L397.3,38.5 L394.6,38.5 L392.8,38.7 L391.9,39.1 L391.9,40.0 L393.3,40.7 L393.3,41.8 L393.0,42.8 L391.4,43.0 L390.3,42.0 L388.7,42.1 L387.6,43.4 L387.4,44.8 L387.6,46.1 L385.6,46.8 L384.7,47.7 L383.3,47.7 L382.8,47.0 L380.3,47.2 L378.5,48.0 L375.4,48.6 L374.0,47.7 L372.2,47.7 L369.9,48.4 L369.2,48.4 L367.7,47.5 L367.6,46.6 L367.0,45.7 L368.3,44.5 L369.4,43.9 L368.3,43.6 L368.6,42.1 L368.8,41.7 L367.4,42.1 L365.2,42.8 L364.5,43.6 L364.3,44.8 L364.5,45.7 L365.2,46.3 L365.4,47.5 L365.8,48.4 L365.1,49.1 L362.4,49.5 L360.6,49.5 L358.6,50.0 L358.1,51.3 L357.0,52.2 L355.9,53.1 L354.3,53.6 L352.7,54.0 L352.5,55.2 L350.2,56.1 L350.0,56.7 L347.7,56.7 L347.3,56.1 L346.4,56.1 L347.0,57.9 L344.8,58.1 L341.8,58.1 L341.4,59.0 L342.2,59.5 L344.8,60.1 L345.9,60.6 L346.6,61.8 L347.7,62.6 L347.7,63.6 L347.7,65.4 L347.2,67.2 L346.6,67.4 L343.6,67.2 L340.0,67.0 L336.4,66.7 L335.2,66.9 L333.4,67.9 L334.1,69.6 L334.1,71.3 L334.1,73.1 L333.0,74.6 L333.0,75.8 L334.1,76.4 L334.1,77.3 L333.7,78.9 L335.7,78.9 L337.3,78.5 L338.4,79.2 L339.1,80.3 L339.8,80.7 L340.9,80.0 L342.0,79.4 L344.5,79.4 L346.3,79.2 L347.0,78.2 L348.6,77.8 L349.5,76.2 L350.2,75.7 L349.3,74.4 L350.2,73.1 L351.5,71.7 L353.8,71.0 L355.6,70.1 L355.6,69.2 L355.2,67.8 L357.0,67.2 L358.8,67.6 L360.9,67.9 L362.4,67.2 L363.3,66.7 L365.1,65.8 L366.0,65.6 L367.7,66.3 L368.6,68.1 L369.7,69.2 L371.7,70.3 L373.1,71.3 L374.9,72.1 L376.7,73.3 L377.9,73.5 L378.7,75.3 L377.9,77.1 L378.7,77.2 L379.6,76.4 L380.6,75.3 L379.6,74.2 L380.3,72.6 L382.1,73.7 L383.0,73.3 L382.1,72.2 L380.3,71.7 L378.5,70.8 L378.5,70.1 L376.7,69.9 L374.9,68.5 L374.2,67.2 L372.4,66.3 L371.9,64.9 L372.0,63.8 L373.5,63.3 L374.5,63.5 L374.2,64.5 L374.9,64.7 L375.8,64.0 L377.0,66.0 L378.5,67.2 L380.6,68.1 L383.0,69.2 L384.6,70.3 L384.7,72.6 L385.6,74.0 L386.9,75.7 L388.0,76.5 L387.6,77.4 L388.5,78.9 L389.9,79.8 L390.8,79.6 L391.2,79.8 L391.4,78.3 L391.0,77.3 L392.8,77.6 L392.1,76.2 L390.7,74.9 L390.3,72.8 L391.7,73.1 L392.8,73.3 L393.5,71.9 L395.5,72.0 L396.4,72.2 L396.7,73.3 L397.6,72.8 L398.7,72.2 L400.9,71.7 L401.7,71.3 L400.0,70.1 L399.6,68.7 L400.3,67.4 L401.0,66.3 L402.8,64.5 L403.9,63.1 L405.0,61.8 L406.8,61.7 L408.0,62.6 L409.8,62.7 L408.0,63.8 L409.6,65.3 L410.7,65.6 L413.0,64.5 L415.2,64.2 L412.5,63.5 L412.5,62.4 L415.2,61.5 L417.0,61.0 L418.4,60.8 L420.2,60.6 L418.4,61.7 L417.3,62.2 L418.4,62.7 L416.4,64.0 L415.7,64.2 L417.0,65.1 L418.4,65.8 L420.5,67.2 L422.0,67.9 L424.1,69.0 L424.3,70.6 L422.3,71.7 L420.5,71.7 L418.7,71.9 L416.1,71.5 L414.3,70.8 L412.5,69.9 L409.8,69.9 L408.0,70.3 L406.2,71.3 L403.5,71.5 L402.1,71.3 L403.4,72.2 L401.7,72.8 L399.6,72.8 L397.6,73.0 L396.7,73.5 L396.6,74.4 L397.8,74.8 L397.8,75.8 L397.1,76.5 L398.5,77.3 L398.7,78.7 L400.3,79.4 L402.3,80.3 L404.4,80.0 L404.8,79.1 L407.1,79.8 L408.9,80.5 L410.7,80.1 L412.1,79.2 L413.6,79.6 L414.5,79.2 L414.1,80.7 L414.1,82.5 L414.1,84.3 L413.4,85.2 L412.5,86.4 L411.9,88.0 L411.2,89.1 L409.8,89.5 L407.7,89.1 L406.2,88.7 L404.4,88.7 L403.4,89.3 L400.9,89.6 L398.2,88.9 L394.9,88.6 L392.8,87.8 L391.0,86.8 L388.7,86.2 L386.5,86.9 L385.6,88.7 L385.6,90.0 L383.9,90.9 L381.2,89.8 L378.5,89.1 L377.0,87.3 L374.9,86.6 L372.2,86.4 L369.9,85.7 L369.2,84.8 L367.9,83.9 L369.2,82.8 L369.5,81.6 L368.6,80.3 L369.5,78.9 L368.1,78.5 L367.2,78.3 L365.1,79.1 L362.4,78.9 L358.8,79.2 L355.2,79.2 L352.2,79.8 L349.8,80.8 L347.7,81.6 L345.9,82.3 L344.5,81.9 L341.8,82.1 L340.2,80.8 L339.3,81.0 L338.7,82.5 L337.7,84.3 L336.2,85.0 L334.5,85.7 L333.2,86.9 L332.3,88.7 L332.5,90.5 L332.1,91.8 L331.1,93.2 L329.3,94.5 L326.8,95.2 L325.5,97.3 L323.9,98.2 L323.2,100.4 L321.6,102.4 L320.7,104.3 L319.4,106.8 L319.3,107.9 L320.3,110.2 L321.0,112.0 L320.3,114.7 L320.3,116.5 L319.2,118.5 L318.5,118.9 L319.8,120.5 L319.8,122.8 L320.9,123.7 L322.6,125.5 L323.9,126.6 L325.7,128.2 L326.2,130.0 L327.5,131.8 L329.3,132.8 L331.1,134.1 L333.2,135.9 L336.2,137.3 L339.1,136.4 L341.8,135.9 L344.5,136.1 L346.3,136.6 L348.1,135.9 L350.7,134.8 L352.5,134.1 L355.2,133.7 L357.7,133.9 L359.3,135.3 L360.0,137.0 L361.5,137.5 L363.3,137.1 L365.1,136.8 L365.8,137.9 L367.0,138.2 L367.4,139.8 L367.2,141.6 L366.8,143.4 L366.5,144.7 L365.6,146.5 L366.5,147.9 L367.4,149.7 L369.2,152.0 L371.0,153.6 L371.7,155.6 L372.8,157.4 L373.8,160.1 L373.5,161.2 L374.5,164.0 L374.2,167.1 L372.2,169.4 L371.7,172.1 L371.0,173.9 L371.0,176.6 L372.0,178.9 L373.6,182.3 L375.6,185.5 L375.8,188.2 L376.5,191.8 L377.2,194.5 L379.2,196.5 L380.6,199.0 L382.1,201.7 L382.6,203.8 L381.9,204.4 L382.8,206.0 L383.0,206.8 L384.4,207.2 L385.6,207.6 L388.3,206.9 L391.0,206.3 L393.7,206.5 L395.8,206.1 L397.8,205.6 L400.0,204.4 L402.3,202.2 L404.3,200.2 L405.3,198.8 L406.8,197.0 L408.2,195.4 L408.7,192.7 L408.2,191.8 L408.9,190.4 L411.6,189.5 L413.4,188.2 L413.4,185.5 L412.7,183.7 L411.9,181.6 L413.4,180.2 L415.7,178.0 L418.7,176.0 L421.1,174.4 L422.5,172.1 L422.7,169.4 L422.3,166.7 L422.3,164.4 L421.1,163.1 L420.5,160.4 L420.2,157.7 L419.5,156.3 L419.5,155.1 L420.2,153.6 L420.9,152.4 L422.0,150.0 L423.8,148.6 L425.6,146.1 L427.7,143.8 L430.4,141.8 L433.1,139.8 L435.8,137.1 L437.5,134.4 L439.0,130.9 L440.8,127.3 L441.5,125.1 L441.3,123.9 L439.3,124.6 L436.6,125.1 L434.0,125.3 L431.3,126.2 L429.1,126.6 L427.3,124.8 L427.3,123.3 L425.9,121.5 L423.6,118.9 L421.4,117.4 L420.4,116.5 L419.5,113.8 L417.1,111.7 L416.4,109.3 L416.2,107.2 L414.6,104.7 L413.6,102.4 L412.5,100.4 L411.1,98.1 L410.0,95.7 L408.2,92.7 L408.0,91.4 L408.4,92.3 L409.4,94.3 L411.1,95.5 L411.8,94.1 L412.5,92.3 L412.1,94.1 L413.0,95.4 L415.2,98.6 L416.6,101.3 L418.7,103.1 L419.8,105.8 L420.0,107.2 L421.4,109.3 L423.2,111.1 L424.7,113.3 L426.1,115.6 L426.4,118.3 L427.2,121.0 L427.7,122.4 L429.5,122.3 L430.7,121.9 L433.6,121.0 L436.6,120.1 L439.3,118.3 L442.9,117.1 L443.8,115.6 L446.5,114.7 L449.2,113.3 L451.0,112.0 L452.8,111.1 L453.3,108.8 L454.9,108.5 L456.3,106.3 L456.9,104.9 L455.1,103.1 L452.8,102.4 L451.3,101.3 L450.6,99.5 L450.8,98.1 L450.1,98.8 L448.8,99.8 L447.0,101.6 L443.8,101.8 L442.2,101.6 L442.0,99.5 L441.5,98.4 L440.8,99.5 L439.7,99.1 L439.3,97.2 L437.5,95.5 L436.6,94.1 L435.8,92.5 L436.6,91.4 L437.5,90.7 L439.3,91.2 L440.8,93.2 L442.0,95.2 L444.0,96.1 L446.1,97.3 L448.3,97.3 L450.6,96.6 L451.9,97.2 L452.4,99.0 L455.4,99.7 L459.0,100.0 L461.7,100.0 L465.3,99.8 L468.5,99.5 L469.6,100.6 L470.7,102.4 L472.4,103.1 L473.3,104.5 L475.7,104.2 L473.7,105.4 L473.3,106.1 L475.1,107.7 L476.9,107.9 L479.1,107.2 L479.6,105.4 L480.1,107.2 L480.1,109.3 L480.1,111.1 L480.9,113.8 L481.4,116.5 L482.6,118.7 L483.7,121.9 L485.0,124.2 L486.2,127.3 L486.8,129.1 L487.7,130.3 L488.5,130.7 L489.8,129.4 L491.2,128.5 L492.7,126.7 L492.7,124.6 L493.6,121.9 L493.2,119.2 L493.4,117.4 L494.8,116.5 L497.1,115.3 L499.3,113.3 L502.0,110.6 L504.7,109.3 L505.5,107.0 L507.3,106.5 L509.1,106.1 L511.5,105.8 L512.7,104.9 L514.1,105.2 L514.7,107.6 L515.8,109.0 L517.5,110.8 L518.8,112.9 L519.0,115.6 L518.6,116.5 L520.4,116.9 L522.0,115.8 L523.6,115.1 L524.5,116.0 L524.9,118.3 L525.4,120.5 L526.3,123.3 L526.3,126.4 L525.8,129.1 L525.8,131.0 L527.0,131.6 L528.3,133.0 L529.4,134.4 L529.4,136.2 L530.1,138.0 L531.1,140.0 L532.9,141.4 L534.9,142.7 L536.0,142.9 L536.3,141.6 L535.3,140.0 L534.9,138.0 L534.5,135.7 L532.9,134.1 L531.5,132.8 L529.9,132.1 L528.8,130.0 L527.6,128.5 L527.4,126.4 L528.3,124.2 L528.8,122.3 L529.7,121.0 L530.6,122.4 L532.8,123.3 L534.2,125.1 L535.4,126.4 L537.4,126.4 L537.8,127.6 L537.4,129.8 L538.7,129.1 L540.4,127.6 L541.3,126.6 L543.1,125.7 L544.9,124.4 L545.5,122.3 L545.3,120.1 L544.6,117.6 L543.1,116.2 L541.3,114.7 L540.3,112.9 L539.0,111.1 L539.6,109.5 L540.8,108.1 L542.6,107.0 L544.0,106.3 L545.8,106.7 L546.4,108.5 L547.6,108.6 L547.4,107.0 L549.4,106.5 L552.1,105.8 L554.2,105.0 L556.6,104.3 L559.2,102.9 L561.4,101.1 L563.4,99.1 L564.3,97.2 L565.9,95.0 L567.8,92.9 L568.2,91.4 L566.4,90.3 L568.0,89.6 L567.7,88.4 L566.0,86.9 L565.1,84.3 L563.4,82.5 L565.0,80.7 L566.4,79.6 L569.1,78.9 L567.3,78.0 L564.6,78.0 L562.8,78.5 L561.0,76.7 L560.5,75.3 L562.8,74.8 L565.5,73.1 L567.3,72.1 L568.2,72.6 L566.9,74.9 L566.9,75.7 L569.1,74.4 L571.8,73.9 L573.6,74.4 L573.6,76.2 L573.9,77.4 L575.9,78.0 L576.2,79.8 L575.9,82.5 L576.2,83.5 L578.0,83.2 L580.4,82.5 L581.4,81.6 L581.4,79.2 L580.2,77.1 L578.0,74.4 L578.9,73.5 L582.0,71.7 L582.1,69.9 L583.8,69.4 L585.7,68.1 L587.9,68.5 L590.6,66.7 L593.2,64.5 L595.9,61.8 L598.6,59.2 L600.9,56.5 L601.3,53.8 L602.7,51.6 L602.7,49.8 L600.4,49.1 L597.7,48.4 L595.9,48.4 L595.0,46.6 L592.0,47.0 L594.7,44.8 L597.7,43.0 L601.3,40.9 L604.9,39.3 L609.4,38.7 L615.6,38.7 L619.2,38.4 L621.9,39.4 L625.5,39.1 L627.2,38.7 L629.0,37.6 L629.9,36.8 M639.4,36.8 L638.9,37.6 L636.2,39.1 L633.5,40.9 L630.5,41.8 L630.3,43.0 L628.3,44.8 L628.3,46.6 L628.9,49.3 L629.6,51.5 L630.3,53.8 L631.7,52.9 L633.3,51.5 L633.7,50.2 L636.2,49.8 L636.2,47.9 L639.2,47.3 L640.0,46.6 L639.4,44.8 L642.1,44.5 L641.2,43.0 L641.9,41.6 L640.3,41.2 L640.0,40.3 L642.5,39.1 L644.4,37.8 L645.1,36.8 M653.2,36.8 L654.6,37.8 L655.9,36.8 M339.6,55.4 L341.8,55.0 L343.6,55.0 L345.4,54.5 L348.1,54.2 L350.4,54.1 L352.4,53.4 L351.1,52.9 L352.2,52.2 L352.9,50.9 L350.4,50.2 L350.2,49.3 L349.5,48.4 L347.7,47.3 L347.0,45.7 L345.4,44.8 L343.9,44.8 L345.0,44.1 L346.3,43.0 L346.4,42.0 L343.6,41.8 L342.3,42.1 L343.9,40.7 L344.3,40.2 L340.9,40.2 L340.4,41.6 L339.5,43.0 L339.8,44.3 L340.0,45.7 L341.3,45.5 L340.9,47.0 L343.6,46.8 L344.3,48.4 L344.5,49.5 L342.2,49.7 L341.6,50.6 L342.5,51.3 L340.5,52.3 L343.6,53.1 L344.5,53.2 L342.2,53.6 L339.6,55.4 M338.7,51.6 L335.5,52.3 L332.3,52.9 L331.4,51.8 L332.8,50.6 L332.1,49.3 L331.9,48.0 L334.6,47.7 L335.0,46.4 L336.8,46.1 L339.1,46.3 L340.0,47.5 L338.9,48.8 L338.9,50.2 L338.7,51.6 M336.4,43.0 L337.3,41.2 L338.7,40.5 L337.7,41.6 L336.4,43.0 M343.9,39.6 L345.0,39.1 L344.5,39.4 M347.3,37.8 L347.7,36.8 M369.5,46.3 L372.2,46.3 L372.4,44.8 L370.4,45.0 L369.5,46.3 M367.4,46.3 L369.2,46.4 L368.8,45.5 L367.4,46.3 M382.4,43.0 L383.9,41.4 L383.0,42.1 L382.4,43.0 M389.2,40.7 L391.0,40.2 L390.7,41.1 L389.2,40.7 M365.2,69.2 L366.7,68.1 L366.8,69.9 L366.3,71.0 L365.2,69.2 M364.5,72.1 L366.3,71.3 L367.4,72.6 L367.0,75.1 L364.9,75.5 L364.9,73.5 L364.5,72.1 M372.0,77.1 L373.6,76.7 L377.8,76.5 L376.9,79.4 L373.1,78.2 L372.0,77.1 M391.9,81.9 L393.7,81.7 L396.9,82.1 L394.6,82.6 L391.9,81.9 M407.7,82.5 L408.9,81.7 L411.8,81.2 L410.5,82.5 L408.9,83.2 L407.7,82.5 M354.1,74.2 L355.9,73.9 L355.2,74.8 L354.1,74.2 M391.4,75.5 L393.7,76.9 L392.8,76.2 L391.4,75.5 M399.6,80.3 L400.3,80.0 L400.0,80.7 L399.6,80.3 M396.4,74.9 L397.3,74.8 L396.9,75.3 L396.4,74.9 M438.1,166.7 L439.7,170.3 L440.2,173.0 L439.0,173.0 L438.4,175.7 L437.9,178.4 L436.6,181.9 L435.6,185.5 L434.3,189.1 L433.1,190.4 L430.7,191.1 L428.6,190.0 L427.9,187.3 L427.3,184.6 L428.4,181.9 L429.5,180.2 L429.0,177.5 L428.6,175.7 L429.5,174.2 L431.3,173.7 L433.1,173.0 L434.9,171.7 L435.8,169.9 L437.2,168.5 L438.1,166.7 M492.7,127.8 L493.6,128.2 L495.2,130.0 L496.4,132.1 L495.7,133.7 L493.9,134.5 L493.0,133.9 L492.7,131.8 L492.8,130.0 L492.7,127.8 M520.4,135.2 L523.4,135.9 L525.8,137.7 L528.5,139.8 L530.2,141.3 L532.4,142.9 L534.5,144.3 L535.6,146.1 L536.9,147.9 L537.8,149.3 L539.6,150.6 L539.4,153.3 L539.2,155.6 L537.0,155.6 L536.0,154.0 L533.3,152.4 L531.5,150.2 L530.2,148.4 L529.4,146.6 L527.6,144.7 L526.7,142.5 L524.9,140.7 L523.4,138.9 L521.7,137.3 L520.4,135.2 M538.1,157.4 L539.7,155.8 L541.3,155.9 L544.0,156.9 L547.6,157.6 L548.5,156.7 L551.2,157.6 L552.1,158.8 L554.8,159.0 L554.6,160.6 L552.1,160.1 L548.5,159.9 L544.9,159.0 L542.2,159.0 L540.3,158.3 L538.1,157.4 M554.8,159.9 L556.9,160.1 L556.0,161.0 L554.8,159.9 M557.5,160.3 L558.7,160.3 L558.2,161.2 L557.5,160.3 M558.9,160.4 L561.0,159.9 L563.0,160.3 L561.9,161.0 L559.2,161.3 L558.9,160.4 M564.4,160.4 L566.4,160.3 L569.8,159.9 L569.6,160.8 L566.4,161.2 L564.4,161.0 L564.4,160.4 M562.8,162.2 L565.0,162.2 L566.0,163.3 L564.3,163.5 L562.8,162.2 M570.9,163.7 L573.6,161.9 L577.5,160.3 L576.2,161.3 L572.7,163.3 L570.9,163.7 M544.9,142.5 L546.0,141.6 L548.5,142.3 L549.0,140.5 L552.1,139.5 L553.9,137.1 L556.6,135.3 L558.7,132.8 L560.1,133.5 L561.9,135.3 L563.2,135.9 L561.4,137.5 L560.3,138.9 L561.0,141.3 L562.6,143.4 L560.7,143.8 L560.1,146.1 L558.3,147.9 L558.0,150.2 L557.5,151.7 L554.9,152.5 L553.9,151.1 L552.1,150.9 L549.9,151.5 L547.1,150.4 L546.7,147.9 L545.3,146.5 L544.9,144.7 L544.9,142.5 M564.3,143.8 L566.0,142.9 L569.1,143.4 L572.7,142.9 L573.9,142.3 L572.7,144.3 L570.0,144.3 L567.3,144.3 L565.1,144.5 L564.8,146.6 L566.8,147.0 L569.1,146.6 L570.7,147.0 L569.1,148.2 L567.7,148.8 L568.7,150.6 L569.6,152.7 L568.5,153.8 L567.3,152.7 L566.4,150.2 L565.3,151.5 L565.3,155.1 L563.7,155.1 L563.7,151.5 L562.5,150.2 L563.4,147.9 L564.3,145.6 L564.3,143.8 M578.0,142.0 L578.9,141.3 L580.2,142.5 L578.9,144.3 L579.8,146.5 L578.6,144.7 L578.0,143.4 L578.0,142.0 M578.9,150.9 L581.6,150.2 L583.9,151.1 L581.6,151.3 L578.9,150.9 M575.5,150.9 L577.5,151.1 L576.6,152.0 L575.5,150.9 M584.3,146.6 L587.0,145.9 L589.7,146.6 L590.0,149.7 L591.5,151.1 L593.2,149.3 L595.9,148.1 L598.6,148.8 L602.2,149.9 L605.8,151.3 L608.5,152.2 L610.8,154.2 L612.9,155.8 L614.4,157.2 L612.9,157.4 L614.7,159.5 L616.5,161.3 L618.3,163.1 L619.7,163.7 L617.4,163.7 L614.7,163.3 L612.9,162.2 L611.1,159.9 L609.0,159.0 L606.7,159.9 L605.8,161.7 L603.1,161.5 L600.4,159.9 L598.3,160.1 L596.8,158.6 L598.3,157.4 L596.8,155.2 L594.1,153.6 L591.5,153.1 L588.8,152.4 L587.5,152.4 L587.5,151.1 L586.1,150.2 L588.8,149.5 L587.9,149.1 L586.1,148.8 L584.3,147.7 L584.3,146.6 M615.3,155.2 L618.3,154.3 L621.0,152.7 L622.4,152.9 L621.9,154.7 L619.2,156.3 L616.5,156.3 L615.3,155.2 M619.7,149.9 L621.9,151.1 L623.7,153.4 L623.3,152.4 L621.0,150.6 L619.7,149.9 M626.5,154.9 L628.9,157.2 L627.6,156.9 L626.5,154.9 M630.1,157.2 L631.7,158.5 M633.7,158.8 L635.8,160.4 M635.5,161.9 L637.6,162.9 L636.7,162.0 L635.5,161.9 M637.5,160.3 L638.5,162.4 M638.5,163.7 L640.3,164.6 M648.0,171.5 L649.1,173.2 L648.4,173.0 L648.0,171.5 M649.1,173.9 L650.2,174.8 M650.9,176.7 L651.4,177.1 M652.3,178.7 L652.8,179.3 M643.4,181.2 L646.0,182.5 L648.7,185.2 L647.5,185.0 L644.8,183.2 L643.4,181.2 M667.2,176.7 L669.5,176.7 L668.9,177.8 L667.3,177.6 L667.2,176.7 M669.7,175.1 L671.8,174.2 L670.7,175.3 L669.7,175.1 M565.7,112.0 L568.5,112.0 L568.7,114.7 L567.5,116.9 L567.7,119.6 L569.6,120.3 L571.8,121.9 L571.6,122.4 L570.0,121.0 L567.8,120.5 L565.9,120.5 L566.2,119.0 L565.0,118.7 L564.4,116.2 L565.3,114.2 L565.7,112.0 M565.3,121.2 L566.8,121.2 L567.3,122.8 L566.4,123.3 L565.3,121.2 M559.6,130.1 L561.4,128.7 L563.7,126.4 L563.7,124.9 L561.9,127.3 L559.6,130.1 M568.2,124.0 L570.0,124.6 L569.3,126.4 L568.2,126.4 L568.2,124.0 M569.1,127.3 L570.5,125.7 L570.5,128.5 L569.6,128.9 L569.1,127.3 M570.7,128.2 L571.8,125.1 M572.3,124.8 L573.6,125.1 L573.9,126.9 L573.0,127.1 L572.3,124.8 M572.3,122.8 L574.1,122.8 L574.8,125.1 L573.6,124.9 L572.3,122.8 M571.4,127.6 L572.7,127.3 L572.5,128.0 L571.4,127.6 M568.2,132.7 L568.5,130.9 L570.9,129.8 L573.2,129.2 L574.5,127.6 L575.9,130.0 L576.2,132.7 L575.3,133.9 L574.3,135.2 L573.6,134.4 L571.8,133.0 L570.9,131.6 L568.2,132.7 M566.4,100.4 L568.0,100.4 L567.3,103.1 L566.0,105.9 L564.8,104.0 L565.1,102.2 L566.4,100.4 M544.4,110.8 L546.7,109.2 L548.5,109.9 L547.4,111.9 L545.8,112.6 L544.4,111.9 L544.4,110.8 M582.5,85.2 L584.3,84.4 L585.7,86.0 L585.2,88.2 L584.3,89.3 L583.4,89.3 L582.9,87.8 L582.1,86.4 L582.5,85.2 M587.0,84.3 L589.7,83.7 L590.9,84.6 L590.0,85.5 L587.9,86.4 L586.8,85.3 L587.0,84.3 M584.3,84.3 L586.6,83.7 L588.8,83.5 L591.5,83.2 L592.2,83.2 L591.6,84.4 L592.9,85.2 L594.7,83.5 L595.0,83.2 L597.2,83.2 L598.3,83.2 L599.0,82.1 L600.0,81.9 L600.4,82.5 L602.0,81.2 L601.5,79.8 L602.2,78.0 L602.2,76.5 L603.3,75.3 L604.0,73.9 L603.1,72.6 L602.9,71.0 L602.0,70.8 L600.9,71.7 L600.4,73.5 L600.0,75.3 L598.6,77.1 L597.2,78.5 L595.4,78.0 L594.7,78.5 L594.5,79.2 L593.2,80.7 L592.9,81.6 L591.5,81.2 L587.9,81.6 L586.1,82.5 L584.3,83.5 L584.3,84.3 M600.8,70.8 L602.2,70.3 L602.2,69.0 L604.0,68.8 L606.3,69.9 L607.6,68.3 L610.2,67.6 L609.9,65.8 L607.9,66.3 L605.8,65.4 L603.6,63.8 L603.3,65.4 L602.7,67.6 L600.9,67.8 L600.8,69.2 L600.0,69.6 L600.8,70.8 M604.0,62.7 L606.7,61.3 L605.2,60.1 L606.1,57.4 L608.5,57.4 L606.3,54.7 L606.3,52.0 L605.8,49.7 L605.1,47.9 L604.0,49.3 L603.6,52.0 L604.3,54.7 L604.2,58.3 L604.0,60.4 L604.0,62.7 M575.7,85.5 L577.0,85.2 L576.4,85.7 L575.7,85.5 M578.4,98.4 L579.5,97.2 M581.3,94.5 L582.0,94.1 M608.8,218.2 L612.0,218.9 L614.7,218.3 L615.3,220.5 L614.5,222.6 L612.6,223.4 L611.1,223.2 L609.9,221.4 L608.8,219.6 L608.8,218.2 M554.1,184.3 L556.6,182.8 L559.2,182.1 L562.8,181.0 L566.4,180.3 L568.5,177.8 L568.5,176.0 L570.9,176.4 L571.1,174.2 L572.7,173.0 L573.9,171.4 L575.7,170.3 L577.1,170.1 L578.9,171.7 L579.8,171.7 L581.8,171.9 L581.6,169.4 L583.0,167.8 L584.1,167.4 L585.2,167.1 L587.2,166.7 L587.2,165.6 L588.8,166.4 L591.5,167.1 L594.1,166.7 L594.9,167.2 L594.1,168.9 L593.2,169.9 L592.4,171.9 L594.5,173.7 L596.8,175.0 L599.0,176.4 L600.4,176.9 L602.0,176.4 L603.1,173.5 L603.4,170.3 L603.3,167.8 L604.0,164.9 L604.9,164.4 L606.1,166.4 L606.7,168.1 L607.2,170.7 L608.6,170.7 L609.9,172.1 L610.1,174.4 L611.1,176.6 L611.5,178.9 L613.5,180.0 L615.6,181.2 L616.9,183.2 L617.9,185.2 L619.7,185.7 L619.9,187.3 L621.5,188.2 L623.3,190.4 L623.8,192.3 L624.0,194.5 L624.6,196.3 L624.0,199.0 L623.5,201.7 L622.4,203.6 L621.0,205.1 L620.4,206.1 L619.7,207.9 L618.7,210.1 L618.3,212.1 L616.9,213.0 L614.7,213.1 L612.9,214.2 L611.9,215.3 L610.2,214.0 L609.2,213.1 L608.5,213.9 L606.7,214.7 L604.5,214.0 L602.2,213.5 L600.4,212.4 L599.9,211.2 L599.2,209.4 L597.7,209.0 L597.7,207.6 L596.8,206.5 L596.5,204.4 L596.6,203.6 L595.8,205.2 L595.0,207.0 L593.2,207.6 L592.4,207.4 L591.8,205.8 L590.0,204.0 L588.8,202.9 L586.1,202.6 L584.3,201.8 L580.7,201.8 L577.1,202.9 L574.5,203.6 L571.8,204.4 L570.9,205.8 L568.2,206.0 L564.6,206.0 L561.9,207.4 L560.9,208.1 L558.3,207.9 L556.0,206.9 L555.7,205.4 L556.9,204.9 L556.9,202.6 L556.6,200.8 L555.7,199.0 L555.5,197.2 L554.2,195.0 L553.0,192.7 L553.5,191.6 L552.8,189.7 L553.2,187.3 L553.3,184.6 L554.1,184.3 M594.3,209.4 L596.1,209.0 L596.8,209.6 L595.0,209.7 L594.3,209.4 M583.0,165.6 L585.2,165.5 L584.3,166.5 L583.0,165.6 M594.0,169.9 L594.9,170.5 L594.1,170.8 L594.0,169.9 M658.9,206.9 L660.4,207.9 L662.1,209.7 L662.7,211.2 L663.9,210.8 L664.7,212.4 L666.6,213.1 L668.8,212.6 L669.3,212.8 L668.4,214.7 L667.0,215.3 L666.6,216.2 L666.4,217.6 L664.8,219.1 L663.6,219.8 L662.7,219.2 L663.2,218.0 L663.0,216.7 L661.3,216.2 L660.9,215.6 L662.3,214.7 L662.7,213.3 L662.5,212.1 L661.6,210.4 L659.8,208.3 L658.9,206.9 M658.9,217.8 L660.9,218.5 L661.8,219.8 L660.7,221.4 L659.5,222.6 L659.1,223.7 L656.4,224.6 L655.9,226.8 L655.0,227.7 L653.2,228.7 L651.1,228.7 L649.6,228.0 L647.8,227.5 L648.7,225.9 L650.5,224.4 L652.3,223.5 L655.0,222.3 L656.2,221.0 L657.3,219.8 L658.0,218.3 L658.9,217.8 M649.6,229.4 L650.9,229.1 L650.5,230.0 L649.6,229.4 M535.4,52.7 L537.8,52.3 L540.4,50.9 L544.0,48.8 L546.4,45.5 L545.3,45.4 L543.1,47.5 L540.4,49.7 L537.4,52.0 L535.4,52.7 M70.7,109.7 L72.4,109.5 L72.4,110.4 L71.2,111.1 L70.7,109.7 M69.4,107.7 L70.7,107.9 L69.9,108.3 L69.4,107.7 M66.7,106.7 L67.6,106.8 L67.1,107.0 L66.7,106.7 M64.0,105.6 L64.7,105.6 L64.4,105.9 L64.0,105.6 M47.4,50.4 L48.8,49.5 L49.4,49.3 L48.1,50.0 L47.4,50.4 M49.9,49.5 L52.0,48.4 L52.4,48.8 L51.0,49.5 L49.9,49.5 M54.7,47.5 L57.2,46.6 L57.8,47.2 L55.4,47.7 L54.7,47.5 M473.0,233.4 L476.0,233.0 L475.5,234.1 L473.3,234.1 L473.0,233.4 M105.7,40.9 L106.1,42.0 L107.7,43.2 L108.6,44.3 L109.7,43.4 L108.2,42.0 L106.8,41.2 L105.7,40.9 M110.2,44.3 L111.1,46.1 L113.1,47.2 L113.4,45.7 L112.0,44.6 L110.2,44.3 M109.0,41.4 L110.2,42.8 L110.9,42.1 L109.7,41.1 L109.0,41.4 M116.6,49.1 L117.9,50.4 L119.2,51.3 L119.7,50.7 L118.1,49.5 L116.6,49.1 M119.9,51.5 L120.6,52.7 L121.3,52.2 L120.4,51.3 L119.9,51.5 M642.5,40.2 L643.9,39.3 L644.3,39.8 L643.0,40.3 L642.5,40.2 M646.2,46.1 L647.5,46.8 L647.3,46.6 L646.2,46.1 M434.0,64.9 L434.9,68.1 L436.6,69.9 L438.6,72.4 L438.3,74.6 L437.5,76.4 L439.3,78.2 L442.9,79.2 L446.5,78.9 L446.3,76.2 L444.7,74.4 L444.3,72.1 L445.6,69.9 L443.8,68.5 L441.5,65.4 L441.1,63.6 L444.7,61.1 L441.1,61.0 L437.5,61.8 L434.0,64.9 M444.7,70.3 L446.8,69.9 L447.4,71.3 L445.2,71.7 L444.7,70.3 M454.2,63.1 L456.3,61.7 L459.0,61.8 L459.9,64.5 L458.1,66.9 L455.4,66.7 L454.2,64.5 L454.2,63.1 M481.4,63.6 L484.1,61.5 L487.7,61.8 L491.2,61.5 L490.9,62.2 L487.7,62.6 L484.1,62.4 L482.3,64.5 L481.4,63.6 M406.6,145.7 L408.9,144.5 L411.1,145.2 L410.7,147.9 L409.4,150.0 L407.1,149.9 L406.6,147.4 L406.6,145.7 M402.1,151.3 L402.8,154.2 L404.8,157.7 L405.7,161.0 L404.4,159.9 L402.3,156.0 L401.9,153.3 L402.1,151.3 M410.7,162.2 L411.8,165.8 L412.5,169.4 L412.8,171.0 L411.8,170.3 L411.1,166.7 L410.5,164.0 L410.7,162.2 M374.5,121.0 L375.8,121.2 L376.0,122.1 L374.9,122.3 L374.5,121.0 M414.3,137.1 L414.8,138.9 L415.2,140.7 L414.5,139.5 L414.3,137.1 M224.6,172.6 L225.8,173.2 L226.7,174.4 L225.3,173.9 L224.6,172.6 M258.9,145.6 L261.3,144.8 L263.2,145.7 L262.5,147.9 L259.5,148.4 L258.9,145.6 M196.1,123.5 L197.7,125.1 L198.1,124.6 L196.8,123.3 L196.1,123.5 M395.7,73.1 L396.2,73.3" fill="none" stroke="#2212f0" stroke-width="0.88" stroke-linejoin="round" stroke-linecap="round"/><path d="M658.5,50.4 L660.1,49.9 L660.1,50.6 L658.5,50.4 M660.3,50.6 L661.9,50.1 L661.9,50.8 L660.3,50.6 M666.5,52.0 L668.1,51.5 L668.1,52.2 L666.5,52.0 M669.0,52.7 L670.6,52.2 L670.6,52.9 L669.0,52.7 M30.3,52.3 L31.9,51.9 L31.9,52.6 L30.3,52.3 M32.8,52.3 L34.4,51.9 L34.4,52.6 L32.8,52.3 M35.5,52.0 L37.1,51.5 L37.1,52.2 L35.5,52.0 M37.1,51.6 L38.7,51.1 L38.7,51.9 L37.1,51.6 M38.9,51.8 L40.5,51.3 L40.5,52.1 L38.9,51.8 M40.7,51.3 L42.3,50.8 L42.3,51.5 L40.7,51.3 M43.5,50.7 L45.1,50.3 L45.1,51.0 L43.5,50.7 M45.1,50.4 L46.8,49.9 L46.8,50.6 L45.1,50.4 M647.9,46.8 L649.5,46.3 L649.5,47.0 L647.9,46.8 M646.1,46.3 L647.7,45.8 L647.7,46.5 L646.1,46.3 M233.4,112.4 L234.3,112.1 L234.3,112.5 L233.4,112.4 M236.6,112.8 L237.5,112.5 L237.5,112.9 L236.6,112.8 M237.0,114.2 L237.9,113.9 L237.9,114.3 L237.0,114.2 M238.8,114.5 L239.7,114.3 L239.7,114.7 L238.8,114.5 M239.3,116.2 L240.2,115.9 L240.2,116.3 L239.3,116.2 M239.7,117.6 L240.6,117.3 L240.6,117.7 L239.7,117.6 M240.2,119.0 L241.1,118.8 L241.1,119.2 L240.2,119.0 M240.2,120.3 L241.1,120.0 L241.1,120.4 L240.2,120.3 M239.9,121.5 L240.8,121.3 L240.8,121.7 L239.9,121.5 M239.0,123.5 L239.9,123.2 L239.9,123.6 L239.0,123.5 M242.9,121.5 L243.8,121.3 L243.8,121.7 L242.9,121.5 M233.6,113.5 L234.5,113.2 L234.5,113.6 L233.6,113.5 M225.9,123.3 L226.8,123.1 L226.8,123.5 L225.9,123.3 M227.2,123.3 L228.1,123.1 L228.1,123.5 L227.2,123.3 M224.1,122.8 L225.0,122.5 L225.0,122.9 L224.1,122.8 M234.9,125.5 L235.8,125.2 L235.8,125.6 L234.9,125.5 M211.0,97.7 L212.0,97.4 L212.0,97.9 L211.0,97.7 M208.8,97.5 L209.9,97.2 L209.9,97.7 L208.8,97.5 M212.9,100.2 L214.0,99.9 L214.0,100.4 L212.9,100.2 M214.2,101.6 L215.3,101.3 L215.3,101.8 L214.2,101.6 M215.1,103.4 L216.2,103.1 L216.2,103.6 L215.1,103.4 M216.9,104.5 L217.9,104.2 L217.9,104.7 L216.9,104.5 M218.3,107.2 L219.4,106.9 L219.4,107.4 L218.3,107.2 M220.8,106.1 L221.9,105.8 L221.9,106.3 L220.8,106.1 M210.8,100.4 L211.9,100.1 L211.9,100.5 L210.8,100.4 M233.3,87.3 L234.4,87.0 L234.4,87.5 L233.3,87.3 M303.7,77.4 L304.7,77.1 L304.7,77.6 L303.7,77.4 M300.6,75.8 L301.7,75.5 L301.7,76.0 L300.6,75.8 M298.7,76.2 L299.7,75.9 L299.7,76.4 L298.7,76.2 M297.9,76.0 L299.0,75.7 L299.0,76.2 L297.9,76.0 M293.5,74.4 L294.5,74.1 L294.5,74.6 L293.5,74.4 M304.4,78.9 L305.5,78.6 L305.5,79.0 L304.4,78.9 M318.9,86.6 L320.0,86.3 L320.0,86.7 L318.9,86.6 M320.1,85.9 L321.2,85.5 L321.2,86.0 L320.1,85.9 M319.7,94.5 L320.9,94.1 L320.9,94.7 L319.7,94.5 M321.3,95.0 L322.6,94.6 L322.6,95.2 L321.3,95.0 M324.2,94.3 L325.4,93.9 L325.4,94.5 L324.2,94.3 M324.9,93.1 L326.1,92.8 L326.1,93.3 L324.9,93.1 M317.2,93.8 L318.4,93.4 L318.4,93.9 L317.2,93.8 M318.4,94.8 L319.7,94.5 L319.7,95.0 L318.4,94.8 M317.0,95.5 L318.3,95.2 L318.3,95.7 L317.0,95.5 M307.2,118.1 L308.1,117.9 L308.1,118.3 L307.2,118.1 M305.7,118.5 L306.6,118.2 L306.6,118.6 L305.7,118.5 M307.9,118.0 L308.8,117.7 L308.8,118.1 L307.9,118.0 M308.4,116.3 L309.3,116.1 L309.3,116.5 L308.4,116.3 M308.4,115.3 L309.3,115.0 L309.3,115.4 L308.4,115.3 M306.1,115.4 L307.0,115.2 L307.0,115.6 L306.1,115.4 M304.5,114.5 L305.4,114.3 L305.4,114.7 L304.5,114.5 M304.8,115.0 L305.7,114.7 L305.7,115.1 L304.8,115.0 M361.1,144.7 L362.2,144.3 L362.2,144.8 L361.1,144.7 M362.6,142.3 L363.6,142.0 L363.6,142.5 L362.6,142.3 M364.9,138.9 L366.0,138.6 L366.0,139.1 L364.9,138.9 M359.3,147.7 L360.4,147.4 L360.4,147.9 L359.3,147.7 M339.1,173.9 L340.2,173.6 L340.2,174.0 L339.1,173.9 M323.5,159.4 L324.6,159.0 L324.6,159.5 L323.5,159.4 M448.6,183.0 L449.7,182.7 L449.7,183.2 L448.6,183.0 M452.4,181.6 L453.5,181.3 L453.5,181.7 L452.4,181.6 M426.8,166.2 L427.9,165.8 L427.9,166.3 L426.8,166.2 M428.8,167.1 L429.8,166.7 L429.8,167.2 L428.8,167.1 M430.0,168.1 L431.1,167.8 L431.1,168.3 L430.0,168.1 M448.6,153.6 L449.7,153.3 L449.7,153.8 L448.6,153.6 M480.9,137.7 L481.9,137.3 L481.9,137.8 L480.9,137.7 M480.0,144.3 L481.0,144.0 L481.0,144.5 L480.0,144.3 M478.9,158.3 L480.0,158.0 L480.0,158.4 L478.9,158.3 M445.6,122.8 L446.7,122.5 L446.7,123.0 L445.6,122.8 M515.4,123.7 L516.5,123.4 L516.5,123.9 L515.4,123.7 M515.2,125.5 L516.3,125.2 L516.3,125.6 L515.2,125.5 M515.8,121.5 L516.8,121.2 L516.8,121.7 L515.8,121.5 M517.2,132.7 L518.3,132.3 L518.3,132.8 L517.2,132.7 M514.9,126.0 L515.9,125.7 L515.9,126.2 L514.9,126.0 M522.6,167.1 L523.6,166.7 L523.6,167.2 L522.6,167.1 M538.5,164.0 L539.6,163.7 L539.6,164.2 L538.5,164.0 M187.3,146.1 L188.4,145.8 L188.4,146.3 L187.3,146.1 M186.1,146.3 L187.2,146.0 L187.2,146.4 L186.1,146.3 M186.4,145.2 L187.5,144.9 L187.5,145.4 L186.4,145.2 M189.1,146.6 L190.2,146.3 L190.2,146.8 L189.1,146.6 M153.5,193.8 L154.6,193.5 L154.6,193.9 L153.5,193.8 M206.1,205.4 L207.2,205.1 L207.2,205.6 L206.1,205.4 M208.3,205.4 L209.4,205.1 L209.4,205.6 L208.3,205.4 M81.7,176.7 L82.8,176.4 L82.8,176.9 L81.7,176.7 M78.2,175.1 L79.2,174.8 L79.2,175.3 L78.2,175.1 M98.8,161.3 L99.8,161.0 L99.8,161.5 L98.8,161.3 M100.5,162.8 L101.6,162.4 L101.6,162.9 L100.5,162.8 M40.6,169.6 L41.7,169.3 L41.7,169.7 L40.6,169.6 M41.8,170.1 L42.9,169.8 L42.9,170.3 L41.8,170.1 M35.8,183.2 L36.8,182.9 L36.8,183.4 L35.8,183.2 M37.9,178.7 L39.0,178.4 L39.0,178.9 L37.9,178.7 M43.8,170.8 L44.9,170.5 L44.9,171.0 L43.8,170.8 M63.3,183.2 L64.4,182.9 L64.4,183.4 L63.3,183.2 M67.6,141.8 L68.7,141.5 L68.7,142.0 L67.6,141.8 M33.4,224.1 L34.5,223.7 L34.5,224.2 L33.4,224.1 M648.0,146.1 L649.1,145.8 L649.1,146.3 L648.0,146.1 M658.9,142.7 L660.0,142.4 L660.0,142.9 L658.9,142.7 M655.7,132.5 L656.8,132.2 L656.8,132.6 L655.7,132.5 M649.4,129.6 L650.5,129.3 L650.5,129.8 L649.4,129.6 M632.4,132.8 L633.5,132.5 L633.5,133.0 L632.4,132.8 M621.0,131.9 L622.1,131.6 L622.1,132.1 L621.0,131.9 M608.5,121.0 L609.5,120.7 L609.5,121.2 L608.5,121.0 M610.1,118.0 L611.1,117.6 L611.1,118.1 L610.1,118.0 M590.0,131.8 L591.1,131.4 L591.1,131.9 L590.0,131.8 M596.5,128.2 L597.5,127.8 L597.5,128.3 L596.5,128.2 M640.9,135.7 L641.9,135.4 L641.9,135.9 L640.9,135.7 M670.0,160.4 L671.1,160.1 L671.1,160.6 L670.0,160.4 M603.8,96.6 L604.9,96.3 L604.9,96.8 L603.8,96.6 M602.2,100.7 L603.3,100.4 L603.3,100.9 L602.2,100.7 M624.9,101.6 L626.0,101.3 L626.0,101.8 L624.9,101.6 M584.1,99.0 L585.2,98.6 L585.2,99.1 L584.1,99.0 M571.6,101.5 L572.7,101.1 L572.7,101.6 L571.6,101.5 M573.6,100.7 L574.6,100.4 L574.6,100.9 L573.6,100.7 M339.1,173.7 L340.2,173.4 L340.2,173.9 L339.1,173.7 M327.3,211.7 L328.4,211.4 L328.4,211.9 L327.3,211.7 M331.6,217.4 L332.7,217.1 L332.7,217.6 L331.6,217.4 M417.0,229.3 L418.0,228.9 L418.0,229.4 L417.0,229.3 M441.8,228.4 L442.9,228.0 L442.9,228.5 L441.8,228.4 M473.7,233.6 L474.8,233.2 L474.8,233.7 L473.7,233.6 M474.9,233.2 L476.0,232.9 L476.0,233.4 L474.9,233.2 M488.0,213.0 L489.1,212.6 L489.1,213.1 L488.0,213.0 M480.9,240.4 L481.9,240.1 L481.9,240.5 L480.9,240.4 M633.7,243.1 L634.8,242.7 L634.8,243.2 L633.7,243.1 M646.4,236.1 L647.5,235.8 L647.5,236.2 L646.4,236.1 M652.1,239.3 L653.2,239.0 L653.2,239.5 L652.1,239.3 M669.3,234.3 L670.4,234.0 L670.4,234.4 L669.3,234.3 M301.9,249.9 L303.0,249.6 L303.0,250.0 L301.9,249.9 M355.4,242.7 L356.5,242.4 L356.5,242.9 L355.4,242.7 M240.9,236.6 L241.9,236.3 L241.9,236.8 L240.9,236.6 M27.2,174.8 L28.2,174.5 L28.2,174.9 L27.2,174.8 M27.5,174.2 L28.6,173.9 L28.6,174.4 L27.5,174.2 M610.6,66.5 L611.7,66.2 L611.7,66.7 L610.6,66.5 M612.2,65.6 L613.3,65.3 L613.3,65.8 L612.2,65.6 M614.0,64.5 L615.1,64.2 L615.1,64.7 L614.0,64.5 M615.6,63.6 L616.7,63.3 L616.7,63.8 L615.6,63.6 M617.8,62.7 L618.8,62.4 L618.8,62.9 L617.8,62.7 M619.0,61.7 L620.1,61.3 L620.1,61.8 L619.0,61.7 M621.3,61.0 L622.4,60.6 L622.4,61.1 L621.3,61.0 M623.0,59.7 L624.0,59.4 L624.0,59.9 L623.0,59.7 M623.8,58.4 L624.9,58.1 L624.9,58.6 L623.8,58.4 M625.1,57.4 L626.2,57.0 L626.2,57.5 L625.1,57.4 M626.4,56.7 L627.4,56.3 L627.4,56.8 L626.4,56.7 M627.6,55.2 L628.7,54.9 L628.7,55.4 L627.6,55.2 M628.7,54.3 L629.8,54.0 L629.8,54.5 L628.7,54.3" fill="#2a18e8" fill-opacity="0.6" stroke="#2a18e8" stroke-opacity="0.75" stroke-width="0.6" stroke-linejoin="round"/><path d="M217.8,220.8 L216.7,224.1 L215.8,227.3" fill="none" stroke="#1408f8" stroke-width="2.8" stroke-linejoin="round" stroke-linecap="round"/><path d="M215.8,227.3 L215.6,230.3 L215.6,233.9 L216.3,237.0" fill="none" stroke="#1408f8" stroke-width="3.4" stroke-linejoin="round" stroke-linecap="round"/><path d="M216.3,237.0 L217.8,239.5 L219.9,241.6 L222.8,242.9 L225.5,244.0" fill="none" stroke="#1408f8" stroke-width="3.0" stroke-linejoin="round" stroke-linecap="round"/><path d="M225.5,244.0 L228.1,244.7 L229.9,244.9" fill="none" stroke="#1408f8" stroke-width="2.2" stroke-linejoin="round" stroke-linecap="round"/><path d="M258.6,199.5 L257.7,201.1 L256.6,202.4" fill="none" stroke="#1408f8" stroke-width="2.0" stroke-linejoin="round" stroke-linecap="round"/><path d="M105.4,40.7 L107.5,42.7 L109.7,44.5 L111.8,46.3 L113.2,47.3" fill="none" stroke="#1408f8" stroke-width="2.6" stroke-linejoin="round" stroke-linecap="round"/><path d="M113.2,47.3 L116.5,49.1 L119.0,51.1 L120.4,52.5" fill="none" stroke="#1408f8" stroke-width="2.0" stroke-linejoin="round" stroke-linecap="round"/><path d="M120.4,52.5 L121.7,54.1 L125.2,55.2 L127.6,56.5" fill="none" stroke="#1408f8" stroke-width="1.8" stroke-linejoin="round" stroke-linecap="round"/><path d="M57.1,47.0 L61.7,46.1 L65.3,45.0" fill="none" stroke="#1408f8" stroke-width="1.8" stroke-linejoin="round" stroke-linecap="round"/><path d="M74.6,42.7 L76.7,41.6" fill="none" stroke="#1408f8" stroke-width="1.6" stroke-linejoin="round" stroke-linecap="round"/><path d="M391.9,75.7 L393.7,77.4 L395.3,78.7 L397.3,78.0 L396.7,76.2 L395.7,74.9" fill="none" stroke="#1408f8" stroke-width="2.2" stroke-linejoin="round" stroke-linecap="round"/><path d="M568.2,124.6 L570.5,126.4 L572.7,126.4 L573.9,124.0" fill="none" stroke="#1408f8" stroke-width="1.8" stroke-linejoin="round" stroke-linecap="round"/><path d="M338.6,44.3 L339.1,42.7 L338.2,42.0" fill="none" stroke="#1408f8" stroke-width="2.0" stroke-linejoin="round" stroke-linecap="round"/><path d="M368.8,46.3 L370.6,45.9 L371.7,46.4" fill="none" stroke="#1408f8" stroke-width="2.4" stroke-linejoin="round" stroke-linecap="round"/><path d="M359.2,38.9 L359.9,37.8" fill="none" stroke="#1408f8" stroke-width="2.0" stroke-linejoin="round" stroke-linecap="round"/><path d="M626.4,155.1 L629.0,157.6 L632.3,160.1" fill="none" stroke="#1408f8" stroke-width="1.8" stroke-linejoin="round" stroke-linecap="round"/><path d="M634.9,159.9 L636.9,162.2 L639.2,163.8" fill="none" stroke="#1408f8" stroke-width="1.6" stroke-linejoin="round" stroke-linecap="round"/><path d="M570.0,123.0 L571.8,124.6 L573.2,125.8" fill="none" stroke="#1408f8" stroke-width="1.8" stroke-linejoin="round" stroke-linecap="round"/><path d="M578.7,142.5 L578.9,144.7 L578.2,146.3" fill="none" stroke="#1408f8" stroke-width="1.6" stroke-linejoin="round" stroke-linecap="round"/><path d="M208.5,97.5 L211.0,100.4 L212.9,102.2" fill="none" stroke="#1408f8" stroke-width="1.6" stroke-linejoin="round" stroke-linecap="round"/><path d="M608.5,151.7 L610.8,154.5" fill="none" stroke="#1408f8" stroke-width="1.5" stroke-linejoin="round" stroke-linecap="round"/>
<rect x="626.6" y="61.1" width="11.2" height="7.6" fill="#fff" fill-opacity="0.95"/><text x="632.2" y="67.9" font-size="8.2" text-anchor="middle" fill="#77775a" textLength="9.2" lengthAdjust="spacingAndGlyphs">26</text>
<rect x="574.0" y="61.1" width="11.2" height="7.6" fill="#fff" fill-opacity="0.95"/><text x="579.6" y="67.9" font-size="8.2" text-anchor="middle" fill="#77775a" textLength="9.2" lengthAdjust="spacingAndGlyphs">28</text>
<rect x="521.5" y="61.1" width="11.2" height="7.6" fill="#fff" fill-opacity="0.95"/><text x="527.1" y="67.9" font-size="8.2" text-anchor="middle" fill="#77775a" textLength="9.2" lengthAdjust="spacingAndGlyphs">30</text>
<rect x="468.9" y="61.1" width="11.2" height="7.6" fill="#fff" fill-opacity="0.95"/><text x="474.5" y="67.9" font-size="8.2" text-anchor="middle" fill="#77775a" textLength="9.2" lengthAdjust="spacingAndGlyphs">32</text>
<rect x="416.3" y="61.1" width="11.2" height="7.6" fill="#fff" fill-opacity="0.95"/><text x="421.9" y="67.9" font-size="8.2" text-anchor="middle" fill="#77775a" textLength="9.2" lengthAdjust="spacingAndGlyphs">34</text>
<rect x="363.8" y="61.1" width="11.2" height="7.6" fill="#fff" fill-opacity="0.95"/><text x="369.4" y="67.9" font-size="8.2" text-anchor="middle" fill="#77775a" textLength="9.2" lengthAdjust="spacingAndGlyphs">36</text>
<rect x="311.2" y="61.1" width="11.2" height="7.6" fill="#fff" fill-opacity="0.95"/><text x="316.8" y="67.9" font-size="8.2" text-anchor="middle" fill="#77775a" textLength="9.2" lengthAdjust="spacingAndGlyphs">38</text>
<rect x="258.6" y="61.1" width="11.2" height="7.6" fill="#fff" fill-opacity="0.95"/><text x="264.2" y="67.9" font-size="8.2" text-anchor="middle" fill="#77775a" textLength="9.2" lengthAdjust="spacingAndGlyphs">40</text>
<rect x="206.0" y="61.1" width="11.2" height="7.6" fill="#fff" fill-opacity="0.95"/><text x="211.6" y="67.9" font-size="8.2" text-anchor="middle" fill="#77775a" textLength="9.2" lengthAdjust="spacingAndGlyphs">42</text>
<rect x="153.5" y="61.1" width="11.2" height="7.6" fill="#fff" fill-opacity="0.95"/><text x="159.1" y="67.9" font-size="8.2" text-anchor="middle" fill="#77775a" textLength="9.2" lengthAdjust="spacingAndGlyphs">44</text>
<rect x="100.9" y="61.1" width="11.2" height="7.6" fill="#fff" fill-opacity="0.95"/><text x="106.5" y="67.9" font-size="8.2" text-anchor="middle" fill="#77775a" textLength="9.2" lengthAdjust="spacingAndGlyphs">46</text>
<rect x="48.3" y="61.1" width="11.2" height="7.6" fill="#fff" fill-opacity="0.95"/><text x="53.9" y="67.9" font-size="8.2" text-anchor="middle" fill="#77775a" textLength="9.2" lengthAdjust="spacingAndGlyphs">48</text>
<rect x="657.4" y="222.2" width="11.2" height="7.6" fill="#fff" fill-opacity="0.95"/><text x="663.0" y="228.9" font-size="8.2" text-anchor="middle" fill="#77775a" textLength="9.2" lengthAdjust="spacingAndGlyphs">24</text>
<rect x="604.0" y="222.2" width="11.2" height="7.6" fill="#fff" fill-opacity="0.95"/><text x="609.6" y="228.9" font-size="8.2" text-anchor="middle" fill="#77775a" textLength="9.2" lengthAdjust="spacingAndGlyphs">26</text>
<rect x="550.6" y="222.2" width="11.2" height="7.6" fill="#fff" fill-opacity="0.95"/><text x="556.2" y="228.9" font-size="8.2" text-anchor="middle" fill="#77775a" textLength="9.2" lengthAdjust="spacingAndGlyphs">28</text>
<rect x="497.2" y="222.2" width="11.2" height="7.6" fill="#fff" fill-opacity="0.95"/><text x="502.8" y="228.9" font-size="8.2" text-anchor="middle" fill="#77775a" textLength="9.2" lengthAdjust="spacingAndGlyphs">30</text>
<rect x="443.8" y="222.2" width="11.2" height="7.6" fill="#fff" fill-opacity="0.95"/><text x="449.4" y="228.9" font-size="8.2" text-anchor="middle" fill="#77775a" textLength="9.2" lengthAdjust="spacingAndGlyphs">32</text>
<rect x="390.4" y="222.2" width="11.2" height="7.6" fill="#fff" fill-opacity="0.95"/><text x="396.0" y="228.9" font-size="8.2" text-anchor="middle" fill="#77775a" textLength="9.2" lengthAdjust="spacingAndGlyphs">34</text>
<rect x="337.0" y="222.2" width="11.2" height="7.6" fill="#fff" fill-opacity="0.95"/><text x="342.6" y="228.9" font-size="8.2" text-anchor="middle" fill="#77775a" textLength="9.2" lengthAdjust="spacingAndGlyphs">36</text>
<rect x="283.6" y="222.2" width="11.2" height="7.6" fill="#fff" fill-opacity="0.95"/><text x="289.2" y="228.9" font-size="8.2" text-anchor="middle" fill="#77775a" textLength="9.2" lengthAdjust="spacingAndGlyphs">38</text>
<rect x="230.2" y="222.2" width="11.2" height="7.6" fill="#fff" fill-opacity="0.95"/><text x="235.8" y="228.9" font-size="8.2" text-anchor="middle" fill="#77775a" textLength="9.2" lengthAdjust="spacingAndGlyphs">40</text>
<rect x="176.8" y="222.2" width="11.2" height="7.6" fill="#fff" fill-opacity="0.95"/><text x="182.4" y="228.9" font-size="8.2" text-anchor="middle" fill="#77775a" textLength="9.2" lengthAdjust="spacingAndGlyphs">42</text>
<rect x="123.4" y="222.2" width="11.2" height="7.6" fill="#fff" fill-opacity="0.95"/><text x="129.0" y="228.9" font-size="8.2" text-anchor="middle" fill="#77775a" textLength="9.2" lengthAdjust="spacingAndGlyphs">44</text>
<rect x="70.0" y="222.2" width="11.2" height="7.6" fill="#fff" fill-opacity="0.95"/><text x="75.6" y="228.9" font-size="8.2" text-anchor="middle" fill="#77775a" textLength="9.2" lengthAdjust="spacingAndGlyphs">46</text>
</g>
<g opacity="0.999">
<text x="158.6" y="15.2" font-size="10.9" fill="#303030" text-anchor="start" word-spacing="2.626">Visibility of the New Crescent Moon for 2022 April 2 (Ramadan 1443 AH)</text>
<text x="15.6" y="32.2" font-size="7.6" fill="#505050" text-anchor="start" textLength="24.6" lengthAdjust="spacingAndGlyphs">W180°</text>
<text x="15.6" y="263.5" font-size="7.6" fill="#505050" text-anchor="start" textLength="24.6" lengthAdjust="spacingAndGlyphs">W180°</text>
<text x="51.4" y="32.2" font-size="7.6" fill="#505050" text-anchor="start" textLength="24.6" lengthAdjust="spacingAndGlyphs">W160°</text>
<text x="51.4" y="263.5" font-size="7.6" fill="#505050" text-anchor="start" textLength="24.6" lengthAdjust="spacingAndGlyphs">W160°</text>
<text x="87.2" y="32.2" font-size="7.6" fill="#505050" text-anchor="start" textLength="24.6" lengthAdjust="spacingAndGlyphs">W140°</text>
<text x="87.2" y="263.5" font-size="7.6" fill="#505050" text-anchor="start" textLength="24.6" lengthAdjust="spacingAndGlyphs">W140°</text>
<text x="123.0" y="32.2" font-size="7.6" fill="#505050" text-anchor="start" textLength="24.6" lengthAdjust="spacingAndGlyphs">W120°</text>
<text x="123.0" y="263.5" font-size="7.6" fill="#505050" text-anchor="start" textLength="24.6" lengthAdjust="spacingAndGlyphs">W120°</text>
<text x="158.8" y="32.2" font-size="7.6" fill="#505050" text-anchor="start" textLength="24.6" lengthAdjust="spacingAndGlyphs">W100°</text>
<text x="158.8" y="263.5" font-size="7.6" fill="#505050" text-anchor="start" textLength="24.6" lengthAdjust="spacingAndGlyphs">W100°</text>
<text x="196.9" y="32.2" font-size="7.6" fill="#505050" text-anchor="start" textLength="20.0" lengthAdjust="spacingAndGlyphs">W80°</text>
<text x="196.9" y="263.5" font-size="7.6" fill="#505050" text-anchor="start" textLength="20.0" lengthAdjust="spacingAndGlyphs">W80°</text>
<text x="232.7" y="32.2" font-size="7.6" fill="#505050" text-anchor="start" textLength="20.0" lengthAdjust="spacingAndGlyphs">W60°</text>
<text x="232.7" y="263.5" font-size="7.6" fill="#505050" text-anchor="start" textLength="20.0" lengthAdjust="spacingAndGlyphs">W60°</text>
<text x="268.5" y="32.2" font-size="7.6" fill="#505050" text-anchor="start" textLength="20.0" lengthAdjust="spacingAndGlyphs">W40°</text>
<text x="268.5" y="263.5" font-size="7.6" fill="#505050" text-anchor="start" textLength="20.0" lengthAdjust="spacingAndGlyphs">W40°</text>
<text x="304.3" y="32.2" font-size="7.6" fill="#505050" text-anchor="start" textLength="20.0" lengthAdjust="spacingAndGlyphs">W20°</text>
<text x="304.3" y="263.5" font-size="7.6" fill="#505050" text-anchor="start" textLength="20.0" lengthAdjust="spacingAndGlyphs">W20°</text>
<text x="346.0" y="32.2" font-size="7.6" fill="#505050" text-anchor="start" textLength="8.0" lengthAdjust="spacingAndGlyphs">0°</text>
<text x="346.0" y="263.5" font-size="7.6" fill="#505050" text-anchor="start" textLength="8.0" lengthAdjust="spacingAndGlyphs">0°</text>
<text x="375.8" y="32.2" font-size="7.6" fill="#505050" text-anchor="start" textLength="20.0" lengthAdjust="spacingAndGlyphs">E20°</text>
<text x="375.8" y="263.5" font-size="7.6" fill="#505050" text-anchor="start" textLength="20.0" lengthAdjust="spacingAndGlyphs">E20°</text>
<text x="411.6" y="32.2" font-size="7.6" fill="#505050" text-anchor="start" textLength="20.0" lengthAdjust="spacingAndGlyphs">E40°</text>
<text x="411.6" y="263.5" font-size="7.6" fill="#505050" text-anchor="start" textLength="20.0" lengthAdjust="spacingAndGlyphs">E40°</text>
<text x="447.4" y="32.2" font-size="7.6" fill="#505050" text-anchor="start" textLength="20.0" lengthAdjust="spacingAndGlyphs">E60°</text>
<text x="447.4" y="263.5" font-size="7.6" fill="#505050" text-anchor="start" textLength="20.0" lengthAdjust="spacingAndGlyphs">E60°</text>
<text x="483.2" y="32.2" font-size="7.6" fill="#505050" text-anchor="start" textLength="20.0" lengthAdjust="spacingAndGlyphs">E80°</text>
<text x="483.2" y="263.5" font-size="7.6" fill="#505050" text-anchor="start" textLength="20.0" lengthAdjust="spacingAndGlyphs">E80°</text>
<text x="516.7" y="32.2" font-size="7.6" fill="#505050" text-anchor="start" textLength="24.6" lengthAdjust="spacingAndGlyphs">E100°</text>
<text x="516.7" y="263.5" font-size="7.6" fill="#505050" text-anchor="start" textLength="24.6" lengthAdjust="spacingAndGlyphs">E100°</text>
<text x="552.5" y="32.2" font-size="7.6" fill="#505050" text-anchor="start" textLength="24.6" lengthAdjust="spacingAndGlyphs">E120°</text>
<text x="552.5" y="263.5" font-size="7.6" fill="#505050" text-anchor="start" textLength="24.6" lengthAdjust="spacingAndGlyphs">E120°</text>
<text x="588.3" y="32.2" font-size="7.6" fill="#505050" text-anchor="start" textLength="24.6" lengthAdjust="spacingAndGlyphs">E140°</text>
<text x="588.3" y="263.5" font-size="7.6" fill="#505050" text-anchor="start" textLength="24.6" lengthAdjust="spacingAndGlyphs">E140°</text>
<text x="624.1" y="32.2" font-size="7.6" fill="#505050" text-anchor="start" textLength="24.6" lengthAdjust="spacingAndGlyphs">E160°</text>
<text x="624.1" y="263.5" font-size="7.6" fill="#505050" text-anchor="start" textLength="24.6" lengthAdjust="spacingAndGlyphs">E160°</text>
<text x="659.9" y="32.2" font-size="7.6" fill="#505050" text-anchor="start" textLength="24.6" lengthAdjust="spacingAndGlyphs">E180°</text>
<text x="659.9" y="263.5" font-size="7.6" fill="#505050" text-anchor="start" textLength="24.6" lengthAdjust="spacingAndGlyphs">E180°</text>
<text x="23.5" y="252.8" font-size="7.6" fill="#505050" text-anchor="end" textLength="19.0" lengthAdjust="spacingAndGlyphs">S60°</text>
<text x="674.9" y="252.8" font-size="7.6" fill="#505050" text-anchor="start" textLength="19.0" lengthAdjust="spacingAndGlyphs">S60°</text>
<text x="23.5" y="220.0" font-size="7.6" fill="#505050" text-anchor="end" textLength="19.0" lengthAdjust="spacingAndGlyphs">S40°</text>
<text x="674.9" y="220.0" font-size="7.6" fill="#505050" text-anchor="start" textLength="19.0" lengthAdjust="spacingAndGlyphs">S40°</text>
<text x="23.5" y="184.1" font-size="7.6" fill="#505050" text-anchor="end" textLength="19.0" lengthAdjust="spacingAndGlyphs">S20°</text>
<text x="674.9" y="184.1" font-size="7.6" fill="#505050" text-anchor="start" textLength="19.0" lengthAdjust="spacingAndGlyphs">S20°</text>
<text x="23.5" y="148.3" font-size="7.6" fill="#505050" text-anchor="end" textLength="8.0" lengthAdjust="spacingAndGlyphs">0°</text>
<text x="674.9" y="148.3" font-size="7.6" fill="#505050" text-anchor="start" textLength="8.0" lengthAdjust="spacingAndGlyphs">0°</text>
<text x="23.5" y="112.4" font-size="7.6" fill="#505050" text-anchor="end" textLength="19.0" lengthAdjust="spacingAndGlyphs">N20°</text>
<text x="674.9" y="112.4" font-size="7.6" fill="#505050" text-anchor="start" textLength="19.0" lengthAdjust="spacingAndGlyphs">N20°</text>
<text x="23.5" y="76.6" font-size="7.6" fill="#505050" text-anchor="end" textLength="19.0" lengthAdjust="spacingAndGlyphs">N40°</text>
<text x="674.9" y="76.6" font-size="7.6" fill="#505050" text-anchor="start" textLength="19.0" lengthAdjust="spacingAndGlyphs">N40°</text>
<text x="23.5" y="42.9" font-size="7.6" fill="#505050" text-anchor="end" textLength="19.0" lengthAdjust="spacingAndGlyphs">N60°</text>
<text x="674.9" y="42.9" font-size="7.6" fill="#505050" text-anchor="start" textLength="19.0" lengthAdjust="spacingAndGlyphs">N60°</text>
<text x="29.5" y="281.5" font-size="9.3" fill="#5e5e5e" text-anchor="start" letter-spacing="-0.181" word-spacing="3.424">New Moon occurred at 2022 April 1 at 06:24 UT</text>
<text x="388.3" y="281.5" font-size="9.3" fill="#5e5e5e" text-anchor="start" letter-spacing="-0.170" word-spacing="3.682">Age of the Moon in hours at the "Best time"</text>
<path d="M598.3,278.3 H628 M640.8,278.3 H670.8" stroke="#8c8a66" stroke-width="1.1"/>
<text x="629.0" y="281.5" font-size="9.3" fill="#8c8a66" text-anchor="start" textLength="11.0" lengthAdjust="spacingAndGlyphs">20</text>
<text x="188.5" y="315.6" font-size="10.6" fill="#141414" text-anchor="start" letter-spacing="-0.484" word-spacing="3.703" stroke="#141414" stroke-width="0.3">New Crescent Moon Visibility Key – Colour Coding of Shaded Areas</text>
<rect x="29.3" y="328.95" width="18.3" height="18.3" fill="#d9151b" stroke="#5c5c5c" stroke-width="0.85"/>
<text x="55.9" y="341.7" font-size="9.9" fill="#5e5e5e" text-anchor="start" letter-spacing="-0.316" word-spacing="2.649">A – Easily visible to the naked eye</text>
<rect x="29.3" y="355.95" width="18.3" height="18.3" fill="#fdae61" stroke="#5c5c5c" stroke-width="0.85"/>
<text x="55.9" y="368.7" font-size="9.9" fill="#5e5e5e" text-anchor="start" letter-spacing="-0.316" word-spacing="3.165">B – Visible to the naked eye under perfect conditions</text>
<rect x="29.3" y="382.65" width="18.3" height="18.3" fill="#ffffbf" stroke="#5c5c5c" stroke-width="0.85"/>
<text x="55.9" y="395.4" font-size="9.9" fill="#5e5e5e" text-anchor="start" letter-spacing="-0.310" word-spacing="3.223">C – May need optical aid to find the crescent moon initially</text>
<rect x="29.3" y="409.25" width="18.3" height="18.3" fill="#fdd3c1" stroke="#5c5c5c" stroke-width="0.85"/>
<text x="55.9" y="422.0" font-size="9.9" fill="#5e5e5e" text-anchor="start" letter-spacing="-0.345" word-spacing="2.769">Moon sets before the Sun</text>
<text x="55.9" y="448.9" font-size="9.9" fill="#5e5e5e" text-anchor="start" letter-spacing="-0.287" word-spacing="3.501">Predicted location of first visibility with the naked eye</text>
<rect x="351.4" y="328.95" width="18.3" height="18.3" fill="#abd9e9" stroke="#5c5c5c" stroke-width="0.85"/>
<text x="378.4" y="341.7" font-size="9.9" fill="#5e5e5e" text-anchor="start" letter-spacing="-0.317" word-spacing="3.024">D – Will need optical aid to find the crescent moon</text>
<rect x="351.4" y="355.95" width="18.3" height="18.3" fill="#2c7bb6" stroke="#5c5c5c" stroke-width="0.85"/>
<text x="378.4" y="368.7" font-size="9.9" fill="#5e5e5e" text-anchor="start" letter-spacing="-0.313" word-spacing="3.129">E – Not visible with a conventional telescope</text>
<rect x="351.4" y="382.65" width="18.3" height="18.3" fill="#ffffff" stroke="#5c5c5c" stroke-width="0.85"/>
<text x="378.4" y="395.4" font-size="9.9" fill="#5e5e5e" text-anchor="start" letter-spacing="-0.313" word-spacing="3.143">F – Not visible – below the Danjon limit</text>
<rect x="351.4" y="409.25" width="18.3" height="18.3" fill="#fff"/><path d="M351.4,416.70 L359.79999999999995,409.25 M351.4,426.20 L369.7,410.00 M360.2,427.55 L369.7,418.90" stroke="#9e6c98" stroke-width="0.95" fill="none"/><rect x="351.4" y="409.25" width="18.3" height="18.3" fill="none" stroke="#606060" stroke-width="0.8"/>
<text x="378.4" y="422.0" font-size="9.9" fill="#5e5e5e" text-anchor="start" letter-spacing="-0.332" word-spacing="3.787">Moon prior to conjunction (new moon)</text>
<text x="378.4" y="448.9" font-size="9.9" fill="#5e5e5e" text-anchor="start" letter-spacing="-0.281" word-spacing="3.808">Predicted location of first visibility with a telescope</text>
<circle cx="38.3" cy="445.3" r="9.2" fill="none" stroke="#f25a36" stroke-width="1.1"/><circle cx="38.3" cy="445.3" r="3.0" fill="none" stroke="#f25a36" stroke-width="0.85"/><circle cx="38.3" cy="445.3" r="0.7" fill="#f25a36"/>
<path d="M351.3,445.3 H358 M363,445.3 H369.8 M360.5,436.1 V442.8 M360.5,447.8 V454.6" stroke="#f25a36" stroke-width="1.25" fill="none"/><circle cx="360.5" cy="445.3" r="2.7" fill="none" stroke="#f25a36" stroke-width="0.9"/><circle cx="360.5" cy="445.3" r="0.6" fill="#f25a36"/>
</g>
</svg>
</body></html>
